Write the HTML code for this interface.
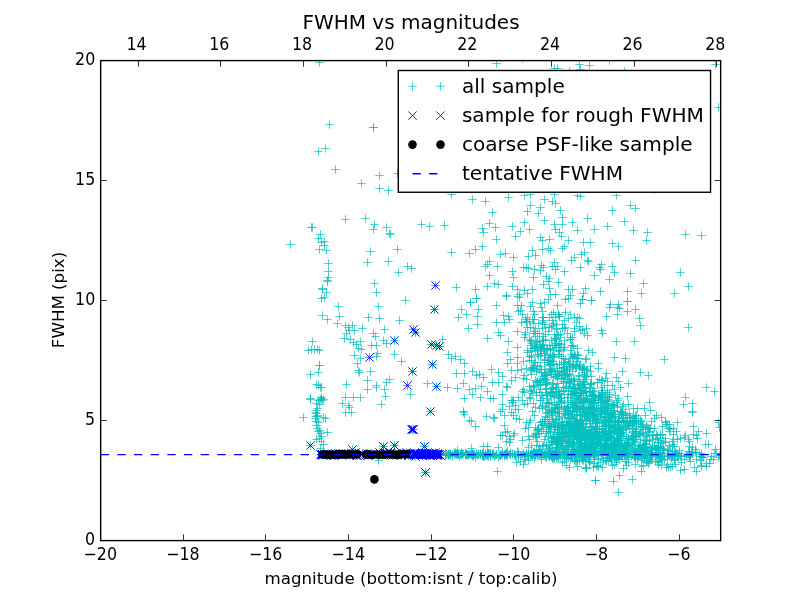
<!DOCTYPE html>
<html lang="en"><head><meta charset="utf-8"><title>FWHM vs magnitudes</title>
<style>html,body{margin:0;padding:0;background:#fff;overflow:hidden}svg{display:block}text{font-family:"DejaVu Sans", "Liberation Sans", sans-serif;fill:#000}</style></head><body>
<svg width="800" height="600" viewBox="0 0 800 600">
<rect width="800" height="600" fill="#fff"/>
<defs><clipPath id="ax"><rect x="100" y="60" width="620" height="480"/></clipPath></defs>
<g clip-path="url(#ax)">
<path d="M315.33 62.5h8.34M319.5 58.33v8.34M325.33 124.5h8.34M329.5 120.33v8.34M369.33 127.5h8.34M373.5 123.33v8.34M369.33 127.5h8.34M373.5 123.33v8.34M321.33 148.5h8.34M325.5 144.33v8.34M314.33 151.5h8.34M318.5 147.33v8.34M331.33 169.5h8.34M335.5 165.33v8.34M375.33 175.5h8.34M379.5 171.33v8.34M393.33 173.5h8.34M397.5 169.33v8.34M357.33 183.5h8.34M361.5 179.33v8.34M375.33 188.5h8.34M379.5 184.33v8.34M384.33 190.5h8.34M388.5 186.33v8.34M341.33 219.5h8.34M345.5 215.33v8.34M361.33 218.5h8.34M365.5 214.33v8.34M370.33 224.5h8.34M374.5 220.33v8.34M369.33 229.5h8.34M373.5 225.33v8.34M382.33 227.5h8.34M386.5 223.33v8.34M385.33 233.5h8.34M389.5 229.33v8.34M386.33 234.5h8.34M390.5 230.33v8.34M417.33 224.5h8.34M421.5 220.33v8.34M425.33 226.5h8.34M429.5 222.33v8.34M307.33 227.5h8.34M311.5 223.33v8.34M308.33 227.5h8.34M312.5 223.33v8.34M316.33 234.5h8.34M320.5 230.33v8.34M314.33 238.5h8.34M318.5 234.33v8.34M320.33 241.5h8.34M324.5 237.33v8.34M317.33 242.5h8.34M321.5 238.33v8.34M320.33 245.5h8.34M324.5 241.33v8.34M286.33 244.5h8.34M290.5 240.33v8.34M315.33 249.5h8.34M319.5 245.33v8.34M322.33 250.5h8.34M326.5 246.33v8.34M366.33 251.5h8.34M370.5 247.33v8.34M393.33 249.5h8.34M397.5 245.33v8.34M363.33 262.5h8.34M367.5 258.33v8.34M384.33 261.5h8.34M388.5 257.33v8.34M324.33 263.5h8.34M328.5 259.33v8.34M324.33 271.5h8.34M328.5 267.33v8.34M324.33 277.5h8.34M328.5 273.33v8.34M323.33 280.5h8.34M327.5 276.33v8.34M394.33 272.5h8.34M398.5 268.33v8.34M403.33 266.5h8.34M407.5 262.33v8.34M407.33 268.5h8.34M411.5 264.33v8.34M370.33 283.5h8.34M374.5 279.33v8.34M318.33 288.5h8.34M322.5 284.33v8.34M431.33 285.5h8.34M435.5 281.33v8.34M323.33 281.5h8.34M327.5 277.33v8.34M318.33 289.5h8.34M322.5 285.33v8.34M322.33 292.5h8.34M326.5 288.33v8.34M320.33 297.5h8.34M324.5 293.33v8.34M317.33 298.5h8.34M321.5 294.33v8.34M372.33 292.5h8.34M376.5 288.33v8.34M401.33 300.5h8.34M405.5 296.33v8.34M334.33 306.5h8.34M338.5 302.33v8.34M374.33 306.5h8.34M378.5 302.33v8.34M318.33 315.5h8.34M322.5 311.33v8.34M323.33 319.5h8.34M327.5 315.33v8.34M335.33 316.5h8.34M339.5 312.33v8.34M333.33 323.5h8.34M337.5 319.33v8.34M364.33 317.5h8.34M368.5 313.33v8.34M375.33 318.5h8.34M379.5 314.33v8.34M395.33 320.5h8.34M399.5 316.33v8.34M380.33 329.5h8.34M384.5 325.33v8.34M358.33 328.5h8.34M362.5 324.33v8.34M341.33 325.5h8.34M345.5 321.33v8.34M344.33 327.5h8.34M348.5 323.33v8.34M348.33 325.5h8.34M352.5 321.33v8.34M345.33 330.5h8.34M349.5 326.33v8.34M350.33 330.5h8.34M354.5 326.33v8.34M342.33 333.5h8.34M346.5 329.33v8.34M340.33 338.5h8.34M344.5 334.33v8.34M346.33 339.5h8.34M350.5 335.33v8.34M349.33 342.5h8.34M353.5 338.33v8.34M352.33 344.5h8.34M356.5 340.33v8.34M356.33 341.5h8.34M360.5 337.33v8.34M354.33 348.5h8.34M358.5 344.33v8.34M357.33 349.5h8.34M361.5 345.33v8.34M350.33 355.5h8.34M354.5 351.33v8.34M356.33 358.5h8.34M360.5 354.33v8.34M353.33 363.5h8.34M357.5 359.33v8.34M354.33 370.5h8.34M358.5 366.33v8.34M355.33 372.5h8.34M359.5 368.33v8.34M369.33 333.5h8.34M373.5 329.33v8.34M371.33 336.5h8.34M375.5 332.33v8.34M379.33 340.5h8.34M383.5 336.33v8.34M382.33 343.5h8.34M386.5 339.33v8.34M367.33 345.5h8.34M371.5 341.33v8.34M372.33 345.5h8.34M376.5 341.33v8.34M373.33 353.5h8.34M377.5 349.33v8.34M372.33 356.5h8.34M376.5 352.33v8.34M390.33 354.5h8.34M394.5 350.33v8.34M397.33 361.5h8.34M401.5 357.33v8.34M366.33 371.5h8.34M370.5 367.33v8.34M363.33 380.5h8.34M367.5 376.33v8.34M342.33 384.5h8.34M346.5 380.33v8.34M363.33 389.5h8.34M367.5 385.33v8.34M372.33 385.5h8.34M376.5 381.33v8.34M372.33 387.5h8.34M376.5 383.33v8.34M380.33 389.5h8.34M384.5 385.33v8.34M382.33 382.5h8.34M386.5 378.33v8.34M385.33 379.5h8.34M389.5 375.33v8.34M423.33 383.5h8.34M427.5 379.33v8.34M406.33 394.5h8.34M410.5 390.33v8.34M381.33 396.5h8.34M385.5 392.33v8.34M341.33 397.5h8.34M345.5 393.33v8.34M349.33 397.5h8.34M353.5 393.33v8.34M356.33 397.5h8.34M360.5 393.33v8.34M308.33 341.5h8.34M312.5 337.33v8.34M304.33 350.5h8.34M308.5 346.33v8.34M307.33 349.5h8.34M311.5 345.33v8.34M310.33 349.5h8.34M314.5 345.33v8.34M313.33 349.5h8.34M317.5 345.33v8.34M315.33 350.5h8.34M319.5 346.33v8.34M315.33 365.5h8.34M319.5 361.33v8.34M315.33 365.5h8.34M319.5 361.33v8.34M314.33 372.5h8.34M318.5 368.33v8.34M306.33 374.5h8.34M310.5 370.33v8.34M312.33 384.5h8.34M316.5 380.33v8.34M314.33 385.5h8.34M318.5 381.33v8.34M316.33 387.5h8.34M320.5 383.33v8.34M317.33 387.5h8.34M321.5 383.33v8.34M306.33 398.5h8.34M310.5 394.33v8.34M317.33 397.5h8.34M321.5 393.33v8.34M430.33 309.5h8.34M434.5 305.33v8.34M409.33 329.5h8.34M413.5 325.33v8.34M411.33 332.5h8.34M415.5 328.33v8.34M390.33 340.5h8.34M394.5 336.33v8.34M365.33 357.5h8.34M369.5 353.33v8.34M427.33 344.5h8.34M431.5 340.33v8.34M432.33 345.5h8.34M436.5 341.33v8.34M435.33 346.5h8.34M439.5 342.33v8.34M428.33 364.5h8.34M432.5 360.33v8.34M408.33 371.5h8.34M412.5 367.33v8.34M403.33 385.5h8.34M407.5 381.33v8.34M432.33 386.5h8.34M436.5 382.33v8.34M306.33 399.5h8.34M310.5 395.33v8.34M317.33 398.5h8.34M321.5 394.33v8.34M312.33 403.5h8.34M316.5 399.33v8.34M314.33 400.5h8.34M318.5 396.33v8.34M319.33 399.5h8.34M323.5 395.33v8.34M312.33 410.5h8.34M316.5 406.33v8.34M313.33 415.5h8.34M317.5 411.33v8.34M311.33 416.5h8.34M315.5 412.33v8.34M299.33 417.5h8.34M303.5 413.33v8.34M319.33 417.5h8.34M323.5 413.33v8.34M321.33 418.5h8.34M325.5 414.33v8.34M312.33 421.5h8.34M316.5 417.33v8.34M313.33 428.5h8.34M317.5 424.33v8.34M315.33 430.5h8.34M319.5 426.33v8.34M323.33 432.5h8.34M327.5 428.33v8.34M317.33 436.5h8.34M321.5 432.33v8.34M312.33 439.5h8.34M316.5 435.33v8.34M319.33 444.5h8.34M323.5 440.33v8.34M316.33 448.5h8.34M320.5 444.33v8.34M338.33 403.5h8.34M342.5 399.33v8.34M344.33 405.5h8.34M348.5 401.33v8.34M345.33 407.5h8.34M349.5 403.33v8.34M341.33 412.5h8.34M345.5 408.33v8.34M347.33 412.5h8.34M351.5 408.33v8.34M377.33 404.5h8.34M381.5 400.33v8.34M374.33 460.5h8.34M378.5 456.33v8.34M311.33 412.5h8.34M315.5 408.33v8.34M312.33 413.5h8.34M316.5 409.33v8.34M313.33 416.5h8.34M317.5 412.33v8.34M311.33 418.5h8.34M315.5 414.33v8.34M314.33 422.5h8.34M318.5 418.33v8.34M312.33 425.5h8.34M316.5 421.33v8.34M314.33 431.5h8.34M318.5 427.33v8.34M316.33 433.5h8.34M320.5 429.33v8.34M315.33 438.5h8.34M319.5 434.33v8.34M317.33 441.5h8.34M321.5 437.33v8.34M313.33 408.5h8.34M317.5 404.33v8.34M315.33 404.5h8.34M319.5 400.33v8.34M316.33 399.5h8.34M320.5 395.33v8.34M318.33 400.5h8.34M322.5 396.33v8.34M492.33 63.5h8.34M496.5 59.33v8.34M550.33 68.5h8.34M554.5 64.33v8.34M553.33 68.5h8.34M557.5 64.33v8.34M575.33 64.5h8.34M579.5 60.33v8.34M576.33 69.5h8.34M580.5 65.33v8.34M585.33 65.5h8.34M589.5 61.33v8.34M565.33 71.5h8.34M569.5 67.33v8.34M605.33 60.5h8.34M609.5 56.33v8.34M620.33 71.5h8.34M624.5 67.33v8.34M518.33 58.5h8.34M522.5 54.33v8.34M447.33 194.5h8.34M451.5 190.33v8.34M468.33 199.5h8.34M472.5 195.33v8.34M481.33 201.5h8.34M485.5 197.33v8.34M504.33 197.5h8.34M508.5 193.33v8.34M520.33 195.5h8.34M524.5 191.33v8.34M526.33 194.5h8.34M530.5 190.33v8.34M550.33 194.5h8.34M554.5 190.33v8.34M573.33 195.5h8.34M577.5 191.33v8.34M576.33 196.5h8.34M580.5 192.33v8.34M540.33 199.5h8.34M544.5 195.33v8.34M548.33 201.5h8.34M552.5 197.33v8.34M551.33 203.5h8.34M555.5 199.33v8.34M526.33 205.5h8.34M530.5 201.33v8.34M536.33 207.5h8.34M540.5 203.33v8.34M523.33 211.5h8.34M527.5 207.33v8.34M534.33 213.5h8.34M538.5 209.33v8.34M556.33 210.5h8.34M560.5 206.33v8.34M558.33 217.5h8.34M562.5 213.33v8.34M488.33 212.5h8.34M492.5 208.33v8.34M485.33 223.5h8.34M489.5 219.33v8.34M491.33 227.5h8.34M495.5 223.33v8.34M478.33 228.5h8.34M482.5 224.33v8.34M479.33 232.5h8.34M483.5 228.33v8.34M440.33 225.5h8.34M444.5 221.33v8.34M508.33 226.5h8.34M512.5 222.33v8.34M520.33 222.5h8.34M524.5 218.33v8.34M525.33 229.5h8.34M529.5 225.33v8.34M516.33 231.5h8.34M520.5 227.33v8.34M511.33 236.5h8.34M515.5 232.33v8.34M540.33 220.5h8.34M544.5 216.33v8.34M550.33 224.5h8.34M554.5 220.33v8.34M551.33 229.5h8.34M555.5 225.33v8.34M555.33 232.5h8.34M559.5 228.33v8.34M557.33 236.5h8.34M561.5 232.33v8.34M558.33 224.5h8.34M562.5 220.33v8.34M568.33 222.5h8.34M572.5 218.33v8.34M583.33 218.5h8.34M587.5 214.33v8.34M573.33 230.5h8.34M577.5 226.33v8.34M590.33 229.5h8.34M594.5 225.33v8.34M492.33 239.5h8.34M496.5 235.33v8.34M536.33 237.5h8.34M540.5 233.33v8.34M538.33 240.5h8.34M542.5 236.33v8.34M545.33 239.5h8.34M549.5 235.33v8.34M564.33 240.5h8.34M568.5 236.33v8.34M579.33 242.5h8.34M583.5 238.33v8.34M586.33 242.5h8.34M590.5 238.33v8.34M478.33 246.5h8.34M482.5 242.33v8.34M471.33 249.5h8.34M475.5 245.33v8.34M465.33 253.5h8.34M469.5 249.33v8.34M447.33 252.5h8.34M451.5 248.33v8.34M496.33 254.5h8.34M500.5 250.33v8.34M501.33 253.5h8.34M505.5 249.33v8.34M509.33 257.5h8.34M513.5 253.33v8.34M528.33 250.5h8.34M532.5 246.33v8.34M524.33 256.5h8.34M528.5 252.33v8.34M531.33 255.5h8.34M535.5 251.33v8.34M538.33 249.5h8.34M542.5 245.33v8.34M544.33 248.5h8.34M548.5 244.33v8.34M546.33 250.5h8.34M550.5 246.33v8.34M558.33 248.5h8.34M562.5 244.33v8.34M560.33 246.5h8.34M564.5 242.33v8.34M567.33 260.5h8.34M571.5 256.33v8.34M570.33 257.5h8.34M574.5 253.33v8.34M577.33 254.5h8.34M581.5 250.33v8.34M580.33 252.5h8.34M584.5 248.33v8.34M583.33 260.5h8.34M587.5 256.33v8.34M584.33 261.5h8.34M588.5 257.33v8.34M485.33 261.5h8.34M489.5 257.33v8.34M483.33 264.5h8.34M487.5 260.33v8.34M481.33 266.5h8.34M485.5 262.33v8.34M493.33 266.5h8.34M497.5 262.33v8.34M519.33 267.5h8.34M523.5 263.33v8.34M522.33 267.5h8.34M526.5 263.33v8.34M524.33 268.5h8.34M528.5 264.33v8.34M530.33 269.5h8.34M534.5 265.33v8.34M537.33 265.5h8.34M541.5 261.33v8.34M539.33 267.5h8.34M543.5 263.33v8.34M536.33 270.5h8.34M540.5 266.33v8.34M550.33 262.5h8.34M554.5 258.33v8.34M548.33 266.5h8.34M552.5 262.33v8.34M553.33 266.5h8.34M557.5 262.33v8.34M551.33 269.5h8.34M555.5 265.33v8.34M560.33 271.5h8.34M564.5 267.33v8.34M576.33 267.5h8.34M580.5 263.33v8.34M595.33 267.5h8.34M599.5 263.33v8.34M485.33 275.5h8.34M489.5 271.33v8.34M508.33 271.5h8.34M512.5 267.33v8.34M509.33 277.5h8.34M513.5 273.33v8.34M529.33 277.5h8.34M533.5 273.33v8.34M542.33 276.5h8.34M546.5 272.33v8.34M545.33 278.5h8.34M549.5 274.33v8.34M544.33 281.5h8.34M548.5 277.33v8.34M554.33 282.5h8.34M558.5 278.33v8.34M539.33 284.5h8.34M543.5 280.33v8.34M590.33 275.5h8.34M594.5 271.33v8.34M452.33 287.5h8.34M456.5 283.33v8.34M471.33 289.5h8.34M475.5 285.33v8.34M483.33 286.5h8.34M487.5 282.33v8.34M490.33 283.5h8.34M494.5 279.33v8.34M494.33 284.5h8.34M498.5 280.33v8.34M508.33 286.5h8.34M512.5 282.33v8.34M513.33 289.5h8.34M517.5 285.33v8.34M520.33 290.5h8.34M524.5 286.33v8.34M523.33 293.5h8.34M527.5 289.33v8.34M528.33 289.5h8.34M532.5 285.33v8.34M515.33 294.5h8.34M519.5 290.33v8.34M513.33 296.5h8.34M517.5 292.33v8.34M502.33 295.5h8.34M506.5 291.33v8.34M545.33 288.5h8.34M549.5 284.33v8.34M546.33 294.5h8.34M550.5 290.33v8.34M551.33 294.5h8.34M555.5 290.33v8.34M544.33 299.5h8.34M548.5 295.33v8.34M564.33 289.5h8.34M568.5 285.33v8.34M568.33 289.5h8.34M572.5 285.33v8.34M566.33 295.5h8.34M570.5 291.33v8.34M561.33 299.5h8.34M565.5 295.33v8.34M581.33 288.5h8.34M585.5 284.33v8.34M579.33 293.5h8.34M583.5 289.33v8.34M578.33 299.5h8.34M582.5 295.33v8.34M587.33 300.5h8.34M591.5 296.33v8.34M472.33 298.5h8.34M476.5 294.33v8.34M466.33 302.5h8.34M470.5 298.33v8.34M528.33 302.5h8.34M532.5 298.33v8.34M536.33 303.5h8.34M540.5 299.33v8.34M540.33 302.5h8.34M544.5 298.33v8.34M612.33 195.5h8.34M616.5 191.33v8.34M626.33 205.5h8.34M630.5 201.33v8.34M631.33 208.5h8.34M635.5 204.33v8.34M608.33 210.5h8.34M612.5 206.33v8.34M620.33 221.5h8.34M624.5 217.33v8.34M603.33 226.5h8.34M607.5 222.33v8.34M629.33 230.5h8.34M633.5 226.33v8.34M643.33 232.5h8.34M647.5 228.33v8.34M642.33 240.5h8.34M646.5 236.33v8.34M681.33 234.5h8.34M685.5 230.33v8.34M697.33 235.5h8.34M701.5 231.33v8.34M608.33 243.5h8.34M612.5 239.33v8.34M614.33 246.5h8.34M618.5 242.33v8.34M631.33 260.5h8.34M635.5 256.33v8.34M597.33 264.5h8.34M601.5 260.33v8.34M608.33 266.5h8.34M612.5 262.33v8.34M596.33 269.5h8.34M600.5 265.33v8.34M610.33 272.5h8.34M614.5 268.33v8.34M626.33 273.5h8.34M630.5 269.33v8.34M605.33 279.5h8.34M609.5 275.33v8.34M676.33 272.5h8.34M680.5 268.33v8.34M684.33 286.5h8.34M688.5 282.33v8.34M639.33 283.5h8.34M643.5 279.33v8.34M623.33 291.5h8.34M627.5 287.33v8.34M637.33 293.5h8.34M641.5 289.33v8.34M670.33 293.5h8.34M674.5 289.33v8.34M596.33 291.5h8.34M600.5 287.33v8.34M623.33 301.5h8.34M627.5 297.33v8.34M606.33 304.5h8.34M610.5 300.33v8.34M614.33 304.5h8.34M618.5 300.33v8.34M650.33 189.5h8.34M654.5 185.33v8.34M472.33 298.5h8.34M476.5 294.33v8.34M466.33 302.5h8.34M470.5 298.33v8.34M502.33 296.5h8.34M506.5 292.33v8.34M515.33 297.5h8.34M519.5 293.33v8.34M492.33 305.5h8.34M496.5 301.33v8.34M457.33 309.5h8.34M461.5 305.33v8.34M474.33 309.5h8.34M478.5 305.33v8.34M462.33 314.5h8.34M466.5 310.33v8.34M454.33 317.5h8.34M458.5 313.33v8.34M473.33 316.5h8.34M477.5 312.33v8.34M473.33 324.5h8.34M477.5 320.33v8.34M464.33 328.5h8.34M468.5 324.33v8.34M499.33 315.5h8.34M503.5 311.33v8.34M504.33 316.5h8.34M508.5 312.33v8.34M505.33 319.5h8.34M509.5 315.33v8.34M492.33 322.5h8.34M496.5 318.33v8.34M500.33 322.5h8.34M504.5 318.33v8.34M494.33 332.5h8.34M498.5 328.33v8.34M496.33 335.5h8.34M500.5 331.33v8.34M483.33 338.5h8.34M487.5 334.33v8.34M504.33 341.5h8.34M508.5 337.33v8.34M438.33 339.5h8.34M442.5 335.33v8.34M444.33 354.5h8.34M448.5 350.33v8.34M447.33 358.5h8.34M451.5 354.33v8.34M451.33 356.5h8.34M455.5 352.33v8.34M456.33 359.5h8.34M460.5 355.33v8.34M460.33 363.5h8.34M464.5 359.33v8.34M503.33 352.5h8.34M507.5 348.33v8.34M506.33 359.5h8.34M510.5 355.33v8.34M503.33 363.5h8.34M507.5 359.33v8.34M452.33 373.5h8.34M456.5 369.33v8.34M460.33 373.5h8.34M464.5 369.33v8.34M468.33 371.5h8.34M472.5 367.33v8.34M472.33 375.5h8.34M476.5 371.33v8.34M475.33 374.5h8.34M479.5 370.33v8.34M479.33 377.5h8.34M483.5 373.33v8.34M487.33 369.5h8.34M491.5 365.33v8.34M494.33 372.5h8.34M498.5 368.33v8.34M498.33 376.5h8.34M502.5 372.33v8.34M507.33 370.5h8.34M511.5 366.33v8.34M511.33 377.5h8.34M515.5 373.33v8.34M459.33 383.5h8.34M463.5 379.33v8.34M443.33 387.5h8.34M447.5 383.33v8.34M453.33 388.5h8.34M457.5 384.33v8.34M465.33 389.5h8.34M469.5 385.33v8.34M471.33 388.5h8.34M475.5 384.33v8.34M477.33 386.5h8.34M481.5 382.33v8.34M488.33 382.5h8.34M492.5 378.33v8.34M494.33 382.5h8.34M498.5 378.33v8.34M483.33 391.5h8.34M487.5 387.33v8.34M468.33 394.5h8.34M472.5 390.33v8.34M460.33 398.5h8.34M464.5 394.33v8.34M476.33 397.5h8.34M480.5 393.33v8.34M486.33 398.5h8.34M490.5 394.33v8.34M489.33 398.5h8.34M493.5 394.33v8.34M498.33 394.5h8.34M502.5 390.33v8.34M498.33 404.5h8.34M502.5 400.33v8.34M459.33 411.5h8.34M463.5 407.33v8.34M496.33 411.5h8.34M500.5 407.33v8.34M564.33 298.5h8.34M568.5 294.33v8.34M578.33 299.5h8.34M582.5 295.33v8.34M576.33 303.5h8.34M580.5 299.33v8.34M587.33 300.5h8.34M591.5 296.33v8.34M623.33 301.5h8.34M627.5 297.33v8.34M605.33 307.5h8.34M609.5 303.33v8.34M613.33 307.5h8.34M617.5 303.33v8.34M615.33 308.5h8.34M619.5 304.33v8.34M613.33 314.5h8.34M617.5 310.33v8.34M623.33 311.5h8.34M627.5 307.33v8.34M631.33 309.5h8.34M635.5 305.33v8.34M602.33 316.5h8.34M606.5 312.33v8.34M635.33 318.5h8.34M639.5 314.33v8.34M636.33 325.5h8.34M640.5 321.33v8.34M597.33 330.5h8.34M601.5 326.33v8.34M598.33 333.5h8.34M602.5 329.33v8.34M684.33 327.5h8.34M688.5 323.33v8.34M612.33 341.5h8.34M616.5 337.33v8.34M630.33 341.5h8.34M634.5 337.33v8.34M610.33 357.5h8.34M614.5 353.33v8.34M621.33 358.5h8.34M625.5 354.33v8.34M660.33 359.5h8.34M664.5 355.33v8.34M636.33 372.5h8.34M640.5 368.33v8.34M644.33 375.5h8.34M648.5 371.33v8.34M618.33 371.5h8.34M622.5 367.33v8.34M702.33 387.5h8.34M706.5 383.33v8.34M710.33 391.5h8.34M714.5 387.33v8.34M681.33 397.5h8.34M685.5 393.33v8.34M679.33 404.5h8.34M683.5 400.33v8.34M688.33 403.5h8.34M692.5 399.33v8.34M688.33 411.5h8.34M692.5 407.33v8.34M582.33 468.5h8.34M586.5 464.33v8.34M591.33 480.5h8.34M595.5 476.33v8.34M609.33 481.5h8.34M613.5 477.33v8.34M614.33 492.5h8.34M618.5 488.33v8.34M615.33 475.5h8.34M619.5 471.33v8.34M628.33 479.5h8.34M632.5 475.33v8.34M637.33 471.5h8.34M641.5 467.33v8.34M619.33 468.5h8.34M623.5 464.33v8.34M598.33 467.5h8.34M602.5 463.33v8.34M608.33 465.5h8.34M612.5 461.33v8.34M664.33 467.5h8.34M668.5 463.33v8.34M676.33 470.5h8.34M680.5 466.33v8.34M680.33 469.5h8.34M684.5 465.33v8.34M692.33 471.5h8.34M696.5 467.33v8.34M705.33 463.5h8.34M709.5 459.33v8.34M654.33 464.5h8.34M658.5 460.33v8.34M644.33 463.5h8.34M648.5 459.33v8.34M688.33 412.5h8.34M692.5 408.33v8.34M715.33 427.5h8.34M719.5 423.33v8.34M714.33 422.5h8.34M718.5 418.33v8.34M459.33 412.5h8.34M463.5 408.33v8.34M460.33 414.5h8.34M464.5 410.33v8.34M465.33 420.5h8.34M469.5 416.33v8.34M467.33 421.5h8.34M471.5 417.33v8.34M471.33 426.5h8.34M475.5 422.33v8.34M482.33 416.5h8.34M486.5 412.33v8.34M489.33 417.5h8.34M493.5 413.33v8.34M490.33 418.5h8.34M494.5 414.33v8.34M498.33 409.5h8.34M502.5 405.33v8.34M500.33 415.5h8.34M504.5 411.33v8.34M500.33 425.5h8.34M504.5 421.33v8.34M496.33 435.5h8.34M500.5 431.33v8.34M498.33 435.5h8.34M502.5 431.33v8.34M479.33 446.5h8.34M483.5 442.33v8.34M483.33 446.5h8.34M487.5 442.33v8.34M467.33 448.5h8.34M471.5 444.33v8.34M494.33 447.5h8.34M498.5 443.33v8.34M453.33 450.5h8.34M457.5 446.33v8.34M493.33 471.5h8.34M497.5 467.33v8.34M519.33 464.5h8.34M523.5 460.33v8.34M582.33 468.5h8.34M586.5 464.33v8.34M591.33 480.5h8.34M595.5 476.33v8.34M593.33 465.5h8.34M597.5 461.33v8.34M711.33 64.5h8.34M715.5 60.33v8.34M714.33 107.5h8.34M718.5 103.33v8.34M431.33 285.5h8.34M435.5 281.33v8.34M430.33 309.5h8.34M434.5 305.33v8.34M409.33 329.5h8.34M413.5 325.33v8.34M411.33 332.5h8.34M415.5 328.33v8.34M390.33 340.5h8.34M394.5 336.33v8.34M365.33 357.5h8.34M369.5 353.33v8.34M427.33 344.5h8.34M431.5 340.33v8.34M432.33 345.5h8.34M436.5 341.33v8.34M435.33 346.5h8.34M439.5 342.33v8.34M428.33 364.5h8.34M432.5 360.33v8.34M408.33 371.5h8.34M412.5 367.33v8.34M403.33 385.5h8.34M407.5 381.33v8.34M432.33 386.5h8.34M436.5 382.33v8.34M306.33 445.5h8.34M310.5 441.33v8.34M348.33 449.5h8.34M352.5 445.33v8.34M379.33 446.5h8.34M383.5 442.33v8.34M390.33 445.5h8.34M394.5 441.33v8.34M420.33 446.5h8.34M424.5 442.33v8.34M426.33 411.5h8.34M430.5 407.33v8.34M408.33 429.5h8.34M412.5 425.33v8.34M409.33 429.5h8.34M413.5 425.33v8.34M421.33 472.5h8.34M425.5 468.33v8.34M407.33 429.5h8.34M411.5 425.33v8.34M409.33 429.5h8.34M413.5 425.33v8.34M420.33 446.5h8.34M424.5 442.33v8.34M421.33 472.5h8.34M425.5 468.33v8.34M390.33 445.5h8.34M394.5 441.33v8.34M379.33 446.5h8.34M383.5 442.33v8.34M417.33 454.5h8.34M421.5 450.33v8.34M410.33 455.5h8.34M414.5 451.33v8.34M423.33 454.5h8.34M427.5 450.33v8.34M422.33 454.5h8.34M426.5 450.33v8.34M409.33 454.5h8.34M413.5 450.33v8.34M410.33 454.5h8.34M414.5 450.33v8.34M420.33 454.5h8.34M424.5 450.33v8.34M414.33 454.5h8.34M418.5 450.33v8.34M426.33 455.5h8.34M430.5 451.33v8.34M419.33 454.5h8.34M423.5 450.33v8.34M436.33 455.5h8.34M440.5 451.33v8.34M416.33 454.5h8.34M420.5 450.33v8.34M412.33 454.5h8.34M416.5 450.33v8.34M431.33 454.5h8.34M435.5 450.33v8.34M413.33 453.5h8.34M417.5 449.33v8.34M418.33 453.5h8.34M422.5 449.33v8.34M423.33 454.5h8.34M427.5 450.33v8.34M413.33 454.5h8.34M417.5 450.33v8.34M427.33 453.5h8.34M431.5 449.33v8.34M424.33 454.5h8.34M428.5 450.33v8.34M421.33 454.5h8.34M425.5 450.33v8.34M428.33 455.5h8.34M432.5 451.33v8.34M415.33 453.5h8.34M419.5 449.33v8.34M433.33 454.5h8.34M437.5 450.33v8.34M429.33 453.5h8.34M433.5 449.33v8.34M411.33 456.5h8.34M415.5 452.33v8.34M420.33 454.5h8.34M424.5 450.33v8.34M422.33 453.5h8.34M426.5 449.33v8.34M409.33 453.5h8.34M413.5 449.33v8.34M424.33 453.5h8.34M428.5 449.33v8.34M433.33 453.5h8.34M437.5 449.33v8.34M425.33 455.5h8.34M429.5 451.33v8.34M424.33 453.5h8.34M428.5 449.33v8.34M435.33 454.5h8.34M439.5 450.33v8.34M421.33 454.5h8.34M425.5 450.33v8.34M428.33 454.5h8.34M432.5 450.33v8.34M426.33 455.5h8.34M430.5 451.33v8.34M416.33 454.5h8.34M420.5 450.33v8.34M419.33 454.5h8.34M423.5 450.33v8.34M421.33 454.5h8.34M425.5 450.33v8.34M412.33 454.5h8.34M416.5 450.33v8.34M430.33 454.5h8.34M434.5 450.33v8.34M411.33 454.5h8.34M415.5 450.33v8.34M433.33 455.5h8.34M437.5 451.33v8.34M410.33 453.5h8.34M414.5 449.33v8.34M433.33 454.5h8.34M437.5 450.33v8.34M431.33 454.5h8.34M435.5 450.33v8.34M420.33 453.5h8.34M424.5 449.33v8.34M418.33 455.5h8.34M422.5 451.33v8.34M412.33 453.5h8.34M416.5 449.33v8.34M413.33 454.5h8.34M417.5 450.33v8.34M422.33 454.5h8.34M426.5 450.33v8.34M425.33 454.5h8.34M429.5 450.33v8.34M420.33 454.5h8.34M424.5 450.33v8.34M418.33 452.5h8.34M422.5 448.33v8.34M428.33 453.5h8.34M432.5 449.33v8.34M422.33 453.5h8.34M426.5 449.33v8.34M409.33 453.5h8.34M413.5 449.33v8.34M434.33 454.5h8.34M438.5 450.33v8.34M431.33 452.5h8.34M435.5 448.33v8.34M419.33 454.5h8.34M423.5 450.33v8.34M426.33 454.5h8.34M430.5 450.33v8.34M409.33 454.5h8.34M413.5 450.33v8.34M412.33 454.5h8.34M416.5 450.33v8.34M417.33 454.5h8.34M421.5 450.33v8.34M412.33 454.5h8.34M416.5 450.33v8.34M410.33 454.5h8.34M414.5 450.33v8.34M433.33 454.5h8.34M437.5 450.33v8.34M425.33 454.5h8.34M429.5 450.33v8.34M418.33 454.5h8.34M422.5 450.33v8.34M418.33 455.5h8.34M422.5 451.33v8.34M436.33 455.5h8.34M440.5 451.33v8.34M421.33 454.5h8.34M425.5 450.33v8.34M410.33 454.5h8.34M414.5 450.33v8.34M417.33 454.5h8.34M421.5 450.33v8.34M330.33 455.5h8.34M334.5 451.33v8.34M318.33 455.5h8.34M322.5 451.33v8.34M329.33 454.5h8.34M333.5 450.33v8.34M364.33 455.5h8.34M368.5 451.33v8.34M404.33 454.5h8.34M408.5 450.33v8.34M393.33 454.5h8.34M397.5 450.33v8.34M349.33 453.5h8.34M353.5 449.33v8.34M331.33 454.5h8.34M335.5 450.33v8.34M386.33 453.5h8.34M390.5 449.33v8.34M345.33 454.5h8.34M349.5 450.33v8.34M404.33 455.5h8.34M408.5 451.33v8.34M392.33 454.5h8.34M396.5 450.33v8.34M382.33 453.5h8.34M386.5 449.33v8.34M336.33 453.5h8.34M340.5 449.33v8.34M318.33 454.5h8.34M322.5 450.33v8.34M318.33 454.5h8.34M322.5 450.33v8.34M378.33 455.5h8.34M382.5 451.33v8.34M402.33 452.5h8.34M406.5 448.33v8.34M404.33 455.5h8.34M408.5 451.33v8.34M401.33 454.5h8.34M405.5 450.33v8.34M336.33 454.5h8.34M340.5 450.33v8.34M333.33 454.5h8.34M337.5 450.33v8.34M397.33 455.5h8.34M401.5 451.33v8.34M391.33 453.5h8.34M395.5 449.33v8.34M387.33 454.5h8.34M391.5 450.33v8.34M323.33 453.5h8.34M327.5 449.33v8.34M386.33 452.5h8.34M390.5 448.33v8.34M383.33 453.5h8.34M387.5 449.33v8.34M387.33 454.5h8.34M391.5 450.33v8.34M345.33 455.5h8.34M349.5 451.33v8.34M351.33 452.5h8.34M355.5 448.33v8.34M352.33 455.5h8.34M356.5 451.33v8.34M331.33 453.5h8.34M335.5 449.33v8.34M327.33 455.5h8.34M331.5 451.33v8.34M388.33 455.5h8.34M392.5 451.33v8.34M329.33 455.5h8.34M333.5 451.33v8.34M375.33 452.5h8.34M379.5 448.33v8.34M347.33 453.5h8.34M351.5 449.33v8.34M317.33 454.5h8.34M321.5 450.33v8.34M403.33 453.5h8.34M407.5 449.33v8.34M400.33 453.5h8.34M404.5 449.33v8.34M355.33 455.5h8.34M359.5 451.33v8.34M334.33 453.5h8.34M338.5 449.33v8.34M338.33 454.5h8.34M342.5 450.33v8.34M368.33 454.5h8.34M372.5 450.33v8.34M339.33 454.5h8.34M343.5 450.33v8.34M397.33 454.5h8.34M401.5 450.33v8.34M347.33 453.5h8.34M351.5 449.33v8.34M397.33 454.5h8.34M401.5 450.33v8.34M353.33 455.5h8.34M357.5 451.33v8.34M363.33 453.5h8.34M367.5 449.33v8.34M363.33 455.5h8.34M367.5 451.33v8.34M332.33 454.5h8.34M336.5 450.33v8.34M316.33 454.5h8.34M320.5 450.33v8.34M358.33 453.5h8.34M362.5 449.33v8.34M381.33 453.5h8.34M385.5 449.33v8.34M362.33 454.5h8.34M366.5 450.33v8.34M365.33 454.5h8.34M369.5 450.33v8.34M366.33 454.5h8.34M370.5 450.33v8.34M338.33 454.5h8.34M342.5 450.33v8.34M565.33 363.5h8.34M569.5 359.33v8.34M625.33 421.5h8.34M629.5 417.33v8.34M534.33 356.5h8.34M538.5 352.33v8.34M616.33 387.5h8.34M620.5 383.33v8.34M631.33 431.5h8.34M635.5 427.33v8.34M553.33 443.5h8.34M557.5 439.33v8.34M572.33 367.5h8.34M576.5 363.33v8.34M542.33 403.5h8.34M546.5 399.33v8.34M645.33 431.5h8.34M649.5 427.33v8.34M624.33 404.5h8.34M628.5 400.33v8.34M580.33 416.5h8.34M584.5 412.33v8.34M635.33 452.5h8.34M639.5 448.33v8.34M611.33 430.5h8.34M615.5 426.33v8.34M578.33 459.5h8.34M582.5 455.33v8.34M568.33 431.5h8.34M572.5 427.33v8.34M524.33 455.5h8.34M528.5 451.33v8.34M538.33 453.5h8.34M542.5 449.33v8.34M580.33 413.5h8.34M584.5 409.33v8.34M566.33 394.5h8.34M570.5 390.33v8.34M555.33 393.5h8.34M559.5 389.33v8.34M566.33 350.5h8.34M570.5 346.33v8.34M585.33 412.5h8.34M589.5 408.33v8.34M651.33 449.5h8.34M655.5 445.33v8.34M591.33 416.5h8.34M595.5 412.33v8.34M634.33 423.5h8.34M638.5 419.33v8.34M646.33 449.5h8.34M650.5 445.33v8.34M568.33 404.5h8.34M572.5 400.33v8.34M575.33 366.5h8.34M579.5 362.33v8.34M628.33 444.5h8.34M632.5 440.33v8.34M521.33 334.5h8.34M525.5 330.33v8.34M514.33 409.5h8.34M518.5 405.33v8.34M567.33 354.5h8.34M571.5 350.33v8.34M684.33 451.5h8.34M688.5 447.33v8.34M661.33 422.5h8.34M665.5 418.33v8.34M580.33 368.5h8.34M584.5 364.33v8.34M537.33 431.5h8.34M541.5 427.33v8.34M589.33 455.5h8.34M593.5 451.33v8.34M557.33 364.5h8.34M561.5 360.33v8.34M563.33 446.5h8.34M567.5 442.33v8.34M603.33 397.5h8.34M607.5 393.33v8.34M601.33 409.5h8.34M605.5 405.33v8.34M613.33 439.5h8.34M617.5 435.33v8.34M552.33 347.5h8.34M556.5 343.33v8.34M541.33 369.5h8.34M545.5 365.33v8.34M572.33 366.5h8.34M576.5 362.33v8.34M589.33 436.5h8.34M593.5 432.33v8.34M606.33 420.5h8.34M610.5 416.33v8.34M615.33 414.5h8.34M619.5 410.33v8.34M574.33 433.5h8.34M578.5 429.33v8.34M701.33 444.5h8.34M705.5 440.33v8.34M550.33 397.5h8.34M554.5 393.33v8.34M594.33 459.5h8.34M598.5 455.33v8.34M570.33 436.5h8.34M574.5 432.33v8.34M591.33 445.5h8.34M595.5 441.33v8.34M573.33 348.5h8.34M577.5 344.33v8.34M568.33 345.5h8.34M572.5 341.33v8.34M555.33 440.5h8.34M559.5 436.33v8.34M651.33 461.5h8.34M655.5 457.33v8.34M591.33 418.5h8.34M595.5 414.33v8.34M670.33 446.5h8.34M674.5 442.33v8.34M631.33 420.5h8.34M635.5 416.33v8.34M525.33 422.5h8.34M529.5 418.33v8.34M590.33 459.5h8.34M594.5 455.33v8.34M560.33 347.5h8.34M564.5 343.33v8.34M574.33 443.5h8.34M578.5 439.33v8.34M570.33 317.5h8.34M574.5 313.33v8.34M618.33 446.5h8.34M622.5 442.33v8.34M634.33 454.5h8.34M638.5 450.33v8.34M510.33 433.5h8.34M514.5 429.33v8.34M592.33 437.5h8.34M596.5 433.33v8.34M660.33 459.5h8.34M664.5 455.33v8.34M640.33 458.5h8.34M644.5 454.33v8.34M621.33 446.5h8.34M625.5 442.33v8.34M542.33 392.5h8.34M546.5 388.33v8.34M560.33 368.5h8.34M564.5 364.33v8.34M595.33 411.5h8.34M599.5 407.33v8.34M568.33 434.5h8.34M572.5 430.33v8.34M548.33 393.5h8.34M552.5 389.33v8.34M617.33 440.5h8.34M621.5 436.33v8.34M621.33 451.5h8.34M625.5 447.33v8.34M564.33 361.5h8.34M568.5 357.33v8.34M547.33 426.5h8.34M551.5 422.33v8.34M537.33 349.5h8.34M541.5 345.33v8.34M622.33 420.5h8.34M626.5 416.33v8.34M578.33 444.5h8.34M582.5 440.33v8.34M568.33 365.5h8.34M572.5 361.33v8.34M598.33 390.5h8.34M602.5 386.33v8.34M561.33 327.5h8.34M565.5 323.33v8.34M580.33 437.5h8.34M584.5 433.33v8.34M614.33 445.5h8.34M618.5 441.33v8.34M567.33 451.5h8.34M571.5 447.33v8.34M557.33 447.5h8.34M561.5 443.33v8.34M688.33 447.5h8.34M692.5 443.33v8.34M524.33 447.5h8.34M528.5 443.33v8.34M552.33 324.5h8.34M556.5 320.33v8.34M626.33 417.5h8.34M630.5 413.33v8.34M601.33 434.5h8.34M605.5 430.33v8.34M600.33 447.5h8.34M604.5 443.33v8.34M563.33 369.5h8.34M567.5 365.33v8.34M624.33 438.5h8.34M628.5 434.33v8.34M560.33 362.5h8.34M564.5 358.33v8.34M630.33 437.5h8.34M634.5 433.33v8.34M619.33 434.5h8.34M623.5 430.33v8.34M542.33 413.5h8.34M546.5 409.33v8.34M569.33 408.5h8.34M573.5 404.33v8.34M586.33 434.5h8.34M590.5 430.33v8.34M592.33 442.5h8.34M596.5 438.33v8.34M555.33 402.5h8.34M559.5 398.33v8.34M643.33 461.5h8.34M647.5 457.33v8.34M570.33 446.5h8.34M574.5 442.33v8.34M567.33 393.5h8.34M571.5 389.33v8.34M657.33 417.5h8.34M661.5 413.33v8.34M586.33 371.5h8.34M590.5 367.33v8.34M628.33 428.5h8.34M632.5 424.33v8.34M601.33 436.5h8.34M605.5 432.33v8.34M613.33 444.5h8.34M617.5 440.33v8.34M584.33 459.5h8.34M588.5 455.33v8.34M570.33 432.5h8.34M574.5 428.33v8.34M560.33 452.5h8.34M564.5 448.33v8.34M576.33 389.5h8.34M580.5 385.33v8.34M513.33 357.5h8.34M517.5 353.33v8.34M603.33 404.5h8.34M607.5 400.33v8.34M595.33 422.5h8.34M599.5 418.33v8.34M579.33 460.5h8.34M583.5 456.33v8.34M585.33 409.5h8.34M589.5 405.33v8.34M561.33 409.5h8.34M565.5 405.33v8.34M554.33 423.5h8.34M558.5 419.33v8.34M538.33 378.5h8.34M542.5 374.33v8.34M634.33 451.5h8.34M638.5 447.33v8.34M598.33 455.5h8.34M602.5 451.33v8.34M600.33 385.5h8.34M604.5 381.33v8.34M543.33 348.5h8.34M547.5 344.33v8.34M591.33 396.5h8.34M595.5 392.33v8.34M623.33 415.5h8.34M627.5 411.33v8.34M646.33 452.5h8.34M650.5 448.33v8.34M565.33 426.5h8.34M569.5 422.33v8.34M622.33 445.5h8.34M626.5 441.33v8.34M602.33 448.5h8.34M606.5 444.33v8.34M551.33 422.5h8.34M555.5 418.33v8.34M696.33 460.5h8.34M700.5 456.33v8.34M598.33 396.5h8.34M602.5 392.33v8.34M631.33 415.5h8.34M635.5 411.33v8.34M554.33 442.5h8.34M558.5 438.33v8.34M642.33 444.5h8.34M646.5 440.33v8.34M597.33 413.5h8.34M601.5 409.33v8.34M564.33 414.5h8.34M568.5 410.33v8.34M567.33 421.5h8.34M571.5 417.33v8.34M636.33 429.5h8.34M640.5 425.33v8.34M520.33 455.5h8.34M524.5 451.33v8.34M535.33 446.5h8.34M539.5 442.33v8.34M567.33 379.5h8.34M571.5 375.33v8.34M665.33 445.5h8.34M669.5 441.33v8.34M555.33 407.5h8.34M559.5 403.33v8.34M588.33 394.5h8.34M592.5 390.33v8.34M561.33 451.5h8.34M565.5 447.33v8.34M545.33 357.5h8.34M549.5 353.33v8.34M588.33 402.5h8.34M592.5 398.33v8.34M641.33 444.5h8.34M645.5 440.33v8.34M572.33 432.5h8.34M576.5 428.33v8.34M617.33 444.5h8.34M621.5 440.33v8.34M588.33 409.5h8.34M592.5 405.33v8.34M536.33 380.5h8.34M540.5 376.33v8.34M575.33 400.5h8.34M579.5 396.33v8.34M549.33 384.5h8.34M553.5 380.33v8.34M591.33 451.5h8.34M595.5 447.33v8.34M585.33 434.5h8.34M589.5 430.33v8.34M576.33 440.5h8.34M580.5 436.33v8.34M552.33 404.5h8.34M556.5 400.33v8.34M579.33 450.5h8.34M583.5 446.33v8.34M554.33 418.5h8.34M558.5 414.33v8.34M542.33 427.5h8.34M546.5 423.33v8.34M561.33 415.5h8.34M565.5 411.33v8.34M582.33 398.5h8.34M586.5 394.33v8.34M569.33 407.5h8.34M573.5 403.33v8.34M539.33 349.5h8.34M543.5 345.33v8.34M573.33 438.5h8.34M577.5 434.33v8.34M640.33 450.5h8.34M644.5 446.33v8.34M691.33 449.5h8.34M695.5 445.33v8.34M555.33 413.5h8.34M559.5 409.33v8.34M607.33 452.5h8.34M611.5 448.33v8.34M508.33 402.5h8.34M512.5 398.33v8.34M552.33 389.5h8.34M556.5 385.33v8.34M533.33 354.5h8.34M537.5 350.33v8.34M535.33 408.5h8.34M539.5 404.33v8.34M601.33 400.5h8.34M605.5 396.33v8.34M619.33 417.5h8.34M623.5 413.33v8.34M558.33 446.5h8.34M562.5 442.33v8.34M624.33 439.5h8.34M628.5 435.33v8.34M656.33 453.5h8.34M660.5 449.33v8.34M601.33 439.5h8.34M605.5 435.33v8.34M652.33 434.5h8.34M656.5 430.33v8.34M548.33 355.5h8.34M552.5 351.33v8.34M587.33 429.5h8.34M591.5 425.33v8.34M593.33 455.5h8.34M597.5 451.33v8.34M652.33 448.5h8.34M656.5 444.33v8.34M619.33 450.5h8.34M623.5 446.33v8.34M547.33 340.5h8.34M551.5 336.33v8.34M540.33 355.5h8.34M544.5 351.33v8.34M584.33 414.5h8.34M588.5 410.33v8.34M578.33 407.5h8.34M582.5 403.33v8.34M616.33 435.5h8.34M620.5 431.33v8.34M555.33 441.5h8.34M559.5 437.33v8.34M653.33 461.5h8.34M657.5 457.33v8.34M594.33 402.5h8.34M598.5 398.33v8.34M584.33 446.5h8.34M588.5 442.33v8.34M608.33 450.5h8.34M612.5 446.33v8.34M626.33 423.5h8.34M630.5 419.33v8.34M612.33 439.5h8.34M616.5 435.33v8.34M597.33 443.5h8.34M601.5 439.33v8.34M577.33 393.5h8.34M581.5 389.33v8.34M566.33 383.5h8.34M570.5 379.33v8.34M582.33 399.5h8.34M586.5 395.33v8.34M582.33 420.5h8.34M586.5 416.33v8.34M579.33 435.5h8.34M583.5 431.33v8.34M595.33 446.5h8.34M599.5 442.33v8.34M543.33 382.5h8.34M547.5 378.33v8.34M627.33 447.5h8.34M631.5 443.33v8.34M663.33 456.5h8.34M667.5 452.33v8.34M610.33 443.5h8.34M614.5 439.33v8.34M533.33 350.5h8.34M537.5 346.33v8.34M538.33 311.5h8.34M542.5 307.33v8.34M646.33 450.5h8.34M650.5 446.33v8.34M603.33 408.5h8.34M607.5 404.33v8.34M605.33 415.5h8.34M609.5 411.33v8.34M630.33 418.5h8.34M634.5 414.33v8.34M594.33 441.5h8.34M598.5 437.33v8.34M568.33 387.5h8.34M572.5 383.33v8.34M561.33 433.5h8.34M565.5 429.33v8.34M575.33 432.5h8.34M579.5 428.33v8.34M596.33 436.5h8.34M600.5 432.33v8.34M630.33 442.5h8.34M634.5 438.33v8.34M638.33 458.5h8.34M642.5 454.33v8.34M566.33 367.5h8.34M570.5 363.33v8.34M582.33 376.5h8.34M586.5 372.33v8.34M588.33 439.5h8.34M592.5 435.33v8.34M522.33 453.5h8.34M526.5 449.33v8.34M557.33 434.5h8.34M561.5 430.33v8.34M583.33 399.5h8.34M587.5 395.33v8.34M573.33 385.5h8.34M577.5 381.33v8.34M531.33 433.5h8.34M535.5 429.33v8.34M555.33 436.5h8.34M559.5 432.33v8.34M557.33 401.5h8.34M561.5 397.33v8.34M605.33 426.5h8.34M609.5 422.33v8.34M603.33 392.5h8.34M607.5 388.33v8.34M541.33 389.5h8.34M545.5 385.33v8.34M578.33 329.5h8.34M582.5 325.33v8.34M558.33 324.5h8.34M562.5 320.33v8.34M543.33 398.5h8.34M547.5 394.33v8.34M604.33 439.5h8.34M608.5 435.33v8.34M661.33 421.5h8.34M665.5 417.33v8.34M589.33 436.5h8.34M593.5 432.33v8.34M628.33 418.5h8.34M632.5 414.33v8.34M588.33 426.5h8.34M592.5 422.33v8.34M592.33 428.5h8.34M596.5 424.33v8.34M611.33 442.5h8.34M615.5 438.33v8.34M613.33 438.5h8.34M617.5 434.33v8.34M592.33 431.5h8.34M596.5 427.33v8.34M543.33 403.5h8.34M547.5 399.33v8.34M526.33 370.5h8.34M530.5 366.33v8.34M684.33 439.5h8.34M688.5 435.33v8.34M633.33 449.5h8.34M637.5 445.33v8.34M568.33 394.5h8.34M572.5 390.33v8.34M628.33 454.5h8.34M632.5 450.33v8.34M565.33 382.5h8.34M569.5 378.33v8.34M572.33 422.5h8.34M576.5 418.33v8.34M533.33 441.5h8.34M537.5 437.33v8.34M579.33 423.5h8.34M583.5 419.33v8.34M590.33 400.5h8.34M594.5 396.33v8.34M593.33 428.5h8.34M597.5 424.33v8.34M587.33 450.5h8.34M591.5 446.33v8.34M635.33 454.5h8.34M639.5 450.33v8.34M567.33 418.5h8.34M571.5 414.33v8.34M527.33 445.5h8.34M531.5 441.33v8.34M593.33 422.5h8.34M597.5 418.33v8.34M657.33 458.5h8.34M661.5 454.33v8.34M551.33 338.5h8.34M555.5 334.33v8.34M537.33 372.5h8.34M541.5 368.33v8.34M612.33 438.5h8.34M616.5 434.33v8.34M624.33 452.5h8.34M628.5 448.33v8.34M588.33 436.5h8.34M592.5 432.33v8.34M618.33 447.5h8.34M622.5 443.33v8.34M595.33 431.5h8.34M599.5 427.33v8.34M546.33 371.5h8.34M550.5 367.33v8.34M600.33 449.5h8.34M604.5 445.33v8.34M530.33 415.5h8.34M534.5 411.33v8.34M603.33 446.5h8.34M607.5 442.33v8.34M551.33 426.5h8.34M555.5 422.33v8.34M689.33 434.5h8.34M693.5 430.33v8.34M639.33 444.5h8.34M643.5 440.33v8.34M613.33 434.5h8.34M617.5 430.33v8.34M573.33 422.5h8.34M577.5 418.33v8.34M557.33 344.5h8.34M561.5 340.33v8.34M581.33 454.5h8.34M585.5 450.33v8.34M559.33 426.5h8.34M563.5 422.33v8.34M624.33 425.5h8.34M628.5 421.33v8.34M519.33 378.5h8.34M523.5 374.33v8.34M568.33 411.5h8.34M572.5 407.33v8.34M590.33 400.5h8.34M594.5 396.33v8.34M600.33 422.5h8.34M604.5 418.33v8.34M587.33 447.5h8.34M591.5 443.33v8.34M637.33 427.5h8.34M641.5 423.33v8.34M563.33 437.5h8.34M567.5 433.33v8.34M586.33 444.5h8.34M590.5 440.33v8.34M617.33 456.5h8.34M621.5 452.33v8.34M613.33 458.5h8.34M617.5 454.33v8.34M538.33 328.5h8.34M542.5 324.33v8.34M579.33 454.5h8.34M583.5 450.33v8.34M611.33 448.5h8.34M615.5 444.33v8.34M590.33 415.5h8.34M594.5 411.33v8.34M614.33 424.5h8.34M618.5 420.33v8.34M570.33 453.5h8.34M574.5 449.33v8.34M603.33 403.5h8.34M607.5 399.33v8.34M540.33 362.5h8.34M544.5 358.33v8.34M554.33 443.5h8.34M558.5 439.33v8.34M539.33 336.5h8.34M543.5 332.33v8.34M596.33 414.5h8.34M600.5 410.33v8.34M534.33 385.5h8.34M538.5 381.33v8.34M552.33 444.5h8.34M556.5 440.33v8.34M553.33 451.5h8.34M557.5 447.33v8.34M622.33 436.5h8.34M626.5 432.33v8.34M557.33 427.5h8.34M561.5 423.33v8.34M574.33 390.5h8.34M578.5 386.33v8.34M545.33 345.5h8.34M549.5 341.33v8.34M639.33 450.5h8.34M643.5 446.33v8.34M617.33 426.5h8.34M621.5 422.33v8.34M570.33 398.5h8.34M574.5 394.33v8.34M629.33 450.5h8.34M633.5 446.33v8.34M562.33 386.5h8.34M566.5 382.33v8.34M542.33 379.5h8.34M546.5 375.33v8.34M526.33 327.5h8.34M530.5 323.33v8.34M610.33 443.5h8.34M614.5 439.33v8.34M566.33 423.5h8.34M570.5 419.33v8.34M606.33 458.5h8.34M610.5 454.33v8.34M594.33 448.5h8.34M598.5 444.33v8.34M587.33 402.5h8.34M591.5 398.33v8.34M623.33 422.5h8.34M627.5 418.33v8.34M566.33 358.5h8.34M570.5 354.33v8.34M531.33 344.5h8.34M535.5 340.33v8.34M527.33 369.5h8.34M531.5 365.33v8.34M613.33 452.5h8.34M617.5 448.33v8.34M576.33 414.5h8.34M580.5 410.33v8.34M569.33 391.5h8.34M573.5 387.33v8.34M575.33 460.5h8.34M579.5 456.33v8.34M545.33 403.5h8.34M549.5 399.33v8.34M609.33 414.5h8.34M613.5 410.33v8.34M598.33 408.5h8.34M602.5 404.33v8.34M611.33 421.5h8.34M615.5 417.33v8.34M558.33 429.5h8.34M562.5 425.33v8.34M577.33 447.5h8.34M581.5 443.33v8.34M579.33 436.5h8.34M583.5 432.33v8.34M550.33 338.5h8.34M554.5 334.33v8.34M629.33 440.5h8.34M633.5 436.33v8.34M594.33 402.5h8.34M598.5 398.33v8.34M508.33 400.5h8.34M512.5 396.33v8.34M551.33 429.5h8.34M555.5 425.33v8.34M533.33 429.5h8.34M537.5 425.33v8.34M579.33 412.5h8.34M583.5 408.33v8.34M577.33 445.5h8.34M581.5 441.33v8.34M541.33 407.5h8.34M545.5 403.33v8.34M657.33 443.5h8.34M661.5 439.33v8.34M585.33 461.5h8.34M589.5 457.33v8.34M587.33 427.5h8.34M591.5 423.33v8.34M564.33 441.5h8.34M568.5 437.33v8.34M623.33 442.5h8.34M627.5 438.33v8.34M553.33 383.5h8.34M557.5 379.33v8.34M571.33 424.5h8.34M575.5 420.33v8.34M588.33 352.5h8.34M592.5 348.33v8.34M544.33 423.5h8.34M548.5 419.33v8.34M542.33 383.5h8.34M546.5 379.33v8.34M549.33 424.5h8.34M553.5 420.33v8.34M578.33 429.5h8.34M582.5 425.33v8.34M688.33 453.5h8.34M692.5 449.33v8.34M633.33 459.5h8.34M637.5 455.33v8.34M564.33 433.5h8.34M568.5 429.33v8.34M540.33 353.5h8.34M544.5 349.33v8.34M659.33 441.5h8.34M663.5 437.33v8.34M586.33 444.5h8.34M590.5 440.33v8.34M505.33 436.5h8.34M509.5 432.33v8.34M540.33 421.5h8.34M544.5 417.33v8.34M513.33 305.5h8.34M517.5 301.33v8.34M564.33 453.5h8.34M568.5 449.33v8.34M627.33 423.5h8.34M631.5 419.33v8.34M540.33 439.5h8.34M544.5 435.33v8.34M570.33 454.5h8.34M574.5 450.33v8.34M547.33 370.5h8.34M551.5 366.33v8.34M576.33 436.5h8.34M580.5 432.33v8.34M548.33 450.5h8.34M552.5 446.33v8.34M581.33 412.5h8.34M585.5 408.33v8.34M592.33 408.5h8.34M596.5 404.33v8.34M548.33 361.5h8.34M552.5 357.33v8.34M614.33 440.5h8.34M618.5 436.33v8.34M641.33 429.5h8.34M645.5 425.33v8.34M596.33 399.5h8.34M600.5 395.33v8.34M656.33 458.5h8.34M660.5 454.33v8.34M558.33 437.5h8.34M562.5 433.33v8.34M533.33 341.5h8.34M537.5 337.33v8.34M562.33 449.5h8.34M566.5 445.33v8.34M557.33 356.5h8.34M561.5 352.33v8.34M581.33 440.5h8.34M585.5 436.33v8.34M639.33 457.5h8.34M643.5 453.33v8.34M601.33 406.5h8.34M605.5 402.33v8.34M702.33 433.5h8.34M706.5 429.33v8.34M609.33 446.5h8.34M613.5 442.33v8.34M640.33 456.5h8.34M644.5 452.33v8.34M624.33 443.5h8.34M628.5 439.33v8.34M537.33 307.5h8.34M541.5 303.33v8.34M509.33 435.5h8.34M513.5 431.33v8.34M581.33 438.5h8.34M585.5 434.33v8.34M621.33 444.5h8.34M625.5 440.33v8.34M587.33 447.5h8.34M591.5 443.33v8.34M564.33 391.5h8.34M568.5 387.33v8.34M607.33 413.5h8.34M611.5 409.33v8.34M520.33 392.5h8.34M524.5 388.33v8.34M575.33 423.5h8.34M579.5 419.33v8.34M550.33 334.5h8.34M554.5 330.33v8.34M588.33 390.5h8.34M592.5 386.33v8.34M527.33 391.5h8.34M531.5 387.33v8.34M585.33 432.5h8.34M589.5 428.33v8.34M567.33 445.5h8.34M571.5 441.33v8.34M619.33 420.5h8.34M623.5 416.33v8.34M594.33 439.5h8.34M598.5 435.33v8.34M604.33 405.5h8.34M608.5 401.33v8.34M545.33 411.5h8.34M549.5 407.33v8.34M547.33 438.5h8.34M551.5 434.33v8.34M544.33 453.5h8.34M548.5 449.33v8.34M556.33 337.5h8.34M560.5 333.33v8.34M572.33 415.5h8.34M576.5 411.33v8.34M584.33 457.5h8.34M588.5 453.33v8.34M579.33 367.5h8.34M583.5 363.33v8.34M692.33 435.5h8.34M696.5 431.33v8.34M590.33 416.5h8.34M594.5 412.33v8.34M588.33 449.5h8.34M592.5 445.33v8.34M582.33 408.5h8.34M586.5 404.33v8.34M610.33 444.5h8.34M614.5 440.33v8.34M538.33 421.5h8.34M542.5 417.33v8.34M636.33 422.5h8.34M640.5 418.33v8.34M561.33 374.5h8.34M565.5 370.33v8.34M598.33 416.5h8.34M602.5 412.33v8.34M572.33 398.5h8.34M576.5 394.33v8.34M573.33 410.5h8.34M577.5 406.33v8.34M554.33 314.5h8.34M558.5 310.33v8.34M655.33 454.5h8.34M659.5 450.33v8.34M570.33 328.5h8.34M574.5 324.33v8.34M630.33 439.5h8.34M634.5 435.33v8.34M573.33 396.5h8.34M577.5 392.33v8.34M561.33 312.5h8.34M565.5 308.33v8.34M685.33 454.5h8.34M689.5 450.33v8.34M514.33 311.5h8.34M518.5 307.33v8.34M570.33 355.5h8.34M574.5 351.33v8.34M543.33 349.5h8.34M547.5 345.33v8.34M595.33 432.5h8.34M599.5 428.33v8.34M578.33 369.5h8.34M582.5 365.33v8.34M597.33 380.5h8.34M601.5 376.33v8.34M599.33 444.5h8.34M603.5 440.33v8.34M597.33 411.5h8.34M601.5 407.33v8.34M581.33 401.5h8.34M585.5 397.33v8.34M641.33 451.5h8.34M645.5 447.33v8.34M579.33 401.5h8.34M583.5 397.33v8.34M602.33 460.5h8.34M606.5 456.33v8.34M566.33 435.5h8.34M570.5 431.33v8.34M534.33 429.5h8.34M538.5 425.33v8.34M606.33 445.5h8.34M610.5 441.33v8.34M675.33 450.5h8.34M679.5 446.33v8.34M610.33 421.5h8.34M614.5 417.33v8.34M553.33 427.5h8.34M557.5 423.33v8.34M659.33 449.5h8.34M663.5 445.33v8.34M581.33 446.5h8.34M585.5 442.33v8.34M609.33 404.5h8.34M613.5 400.33v8.34M569.33 366.5h8.34M573.5 362.33v8.34M572.33 393.5h8.34M576.5 389.33v8.34M552.33 405.5h8.34M556.5 401.33v8.34M536.33 366.5h8.34M540.5 362.33v8.34M583.33 443.5h8.34M587.5 439.33v8.34M597.33 440.5h8.34M601.5 436.33v8.34M673.33 439.5h8.34M677.5 435.33v8.34M583.33 335.5h8.34M587.5 331.33v8.34M622.33 438.5h8.34M626.5 434.33v8.34M580.33 382.5h8.34M584.5 378.33v8.34M527.33 355.5h8.34M531.5 351.33v8.34M543.33 452.5h8.34M547.5 448.33v8.34M559.33 433.5h8.34M563.5 429.33v8.34M669.33 434.5h8.34M673.5 430.33v8.34M595.33 439.5h8.34M599.5 435.33v8.34M572.33 449.5h8.34M576.5 445.33v8.34M523.33 317.5h8.34M527.5 313.33v8.34M612.33 402.5h8.34M616.5 398.33v8.34M648.33 439.5h8.34M652.5 435.33v8.34M569.33 423.5h8.34M573.5 419.33v8.34M561.33 388.5h8.34M565.5 384.33v8.34M602.33 401.5h8.34M606.5 397.33v8.34M602.33 431.5h8.34M606.5 427.33v8.34M585.33 413.5h8.34M589.5 409.33v8.34M564.33 422.5h8.34M568.5 418.33v8.34M586.33 420.5h8.34M590.5 416.33v8.34M530.33 458.5h8.34M534.5 454.33v8.34M536.33 389.5h8.34M540.5 385.33v8.34M568.33 371.5h8.34M572.5 367.33v8.34M631.33 433.5h8.34M635.5 429.33v8.34M531.33 346.5h8.34M535.5 342.33v8.34M537.33 457.5h8.34M541.5 453.33v8.34M558.33 462.5h8.34M562.5 458.33v8.34M560.33 433.5h8.34M564.5 429.33v8.34M534.33 428.5h8.34M538.5 424.33v8.34M577.33 419.5h8.34M581.5 415.33v8.34M574.33 442.5h8.34M578.5 438.33v8.34M546.33 431.5h8.34M550.5 427.33v8.34M571.33 423.5h8.34M575.5 419.33v8.34M579.33 435.5h8.34M583.5 431.33v8.34M566.33 339.5h8.34M570.5 335.33v8.34M632.33 415.5h8.34M636.5 411.33v8.34M574.33 425.5h8.34M578.5 421.33v8.34M551.33 409.5h8.34M555.5 405.33v8.34M613.33 453.5h8.34M617.5 449.33v8.34M511.33 409.5h8.34M515.5 405.33v8.34M603.33 396.5h8.34M607.5 392.33v8.34M573.33 460.5h8.34M577.5 456.33v8.34M539.33 317.5h8.34M543.5 313.33v8.34M636.33 432.5h8.34M640.5 428.33v8.34M526.33 345.5h8.34M530.5 341.33v8.34M580.33 440.5h8.34M584.5 436.33v8.34M606.33 414.5h8.34M610.5 410.33v8.34M563.33 425.5h8.34M567.5 421.33v8.34M553.33 426.5h8.34M557.5 422.33v8.34M567.33 390.5h8.34M571.5 386.33v8.34M613.33 451.5h8.34M617.5 447.33v8.34M607.33 454.5h8.34M611.5 450.33v8.34M632.33 424.5h8.34M636.5 420.33v8.34M578.33 368.5h8.34M582.5 364.33v8.34M532.33 392.5h8.34M536.5 388.33v8.34M631.33 454.5h8.34M635.5 450.33v8.34M564.33 379.5h8.34M568.5 375.33v8.34M614.33 446.5h8.34M618.5 442.33v8.34M594.33 436.5h8.34M598.5 432.33v8.34M636.33 452.5h8.34M640.5 448.33v8.34M642.33 435.5h8.34M646.5 431.33v8.34M558.33 428.5h8.34M562.5 424.33v8.34M590.33 403.5h8.34M594.5 399.33v8.34M570.33 443.5h8.34M574.5 439.33v8.34M525.33 439.5h8.34M529.5 435.33v8.34M654.33 456.5h8.34M658.5 452.33v8.34M640.33 452.5h8.34M644.5 448.33v8.34M601.33 422.5h8.34M605.5 418.33v8.34M603.33 436.5h8.34M607.5 432.33v8.34M615.33 432.5h8.34M619.5 428.33v8.34M651.33 455.5h8.34M655.5 451.33v8.34M590.33 436.5h8.34M594.5 432.33v8.34M563.33 421.5h8.34M567.5 417.33v8.34M590.33 403.5h8.34M594.5 399.33v8.34M539.33 379.5h8.34M543.5 375.33v8.34M563.33 371.5h8.34M567.5 367.33v8.34M593.33 444.5h8.34M597.5 440.33v8.34M536.33 385.5h8.34M540.5 381.33v8.34M564.33 457.5h8.34M568.5 453.33v8.34M668.33 446.5h8.34M672.5 442.33v8.34M686.33 461.5h8.34M690.5 457.33v8.34M598.33 448.5h8.34M602.5 444.33v8.34M563.33 453.5h8.34M567.5 449.33v8.34M644.33 432.5h8.34M648.5 428.33v8.34M553.33 413.5h8.34M557.5 409.33v8.34M689.33 426.5h8.34M693.5 422.33v8.34M623.33 424.5h8.34M627.5 420.33v8.34M604.33 399.5h8.34M608.5 395.33v8.34M530.33 451.5h8.34M534.5 447.33v8.34M583.33 438.5h8.34M587.5 434.33v8.34M612.33 458.5h8.34M616.5 454.33v8.34M553.33 368.5h8.34M557.5 364.33v8.34M591.33 416.5h8.34M595.5 412.33v8.34M540.33 324.5h8.34M544.5 320.33v8.34M565.33 412.5h8.34M569.5 408.33v8.34M526.33 390.5h8.34M530.5 386.33v8.34M629.33 439.5h8.34M633.5 435.33v8.34M573.33 437.5h8.34M577.5 433.33v8.34M618.33 429.5h8.34M622.5 425.33v8.34M570.33 331.5h8.34M574.5 327.33v8.34M577.33 432.5h8.34M581.5 428.33v8.34M565.33 437.5h8.34M569.5 433.33v8.34M600.33 411.5h8.34M604.5 407.33v8.34M559.33 349.5h8.34M563.5 345.33v8.34M648.33 447.5h8.34M652.5 443.33v8.34M613.33 407.5h8.34M617.5 403.33v8.34M580.33 445.5h8.34M584.5 441.33v8.34M591.33 398.5h8.34M595.5 394.33v8.34M571.33 388.5h8.34M575.5 384.33v8.34M619.33 430.5h8.34M623.5 426.33v8.34M587.33 383.5h8.34M591.5 379.33v8.34M619.33 404.5h8.34M623.5 400.33v8.34M530.33 347.5h8.34M534.5 343.33v8.34M584.33 409.5h8.34M588.5 405.33v8.34M602.33 434.5h8.34M606.5 430.33v8.34M581.33 377.5h8.34M585.5 373.33v8.34M550.33 437.5h8.34M554.5 433.33v8.34M653.33 439.5h8.34M657.5 435.33v8.34M562.33 426.5h8.34M566.5 422.33v8.34M563.33 439.5h8.34M567.5 435.33v8.34M558.33 432.5h8.34M562.5 428.33v8.34M548.33 392.5h8.34M552.5 388.33v8.34M707.33 456.5h8.34M711.5 452.33v8.34M576.33 364.5h8.34M580.5 360.33v8.34M533.33 430.5h8.34M537.5 426.33v8.34M531.33 380.5h8.34M535.5 376.33v8.34M536.33 355.5h8.34M540.5 351.33v8.34M563.33 413.5h8.34M567.5 409.33v8.34M549.33 363.5h8.34M553.5 359.33v8.34M533.33 333.5h8.34M537.5 329.33v8.34M573.33 450.5h8.34M577.5 446.33v8.34M555.33 371.5h8.34M559.5 367.33v8.34M550.33 425.5h8.34M554.5 421.33v8.34M545.33 427.5h8.34M549.5 423.33v8.34M601.33 444.5h8.34M605.5 440.33v8.34M577.33 423.5h8.34M581.5 419.33v8.34M557.33 422.5h8.34M561.5 418.33v8.34M562.33 366.5h8.34M566.5 362.33v8.34M554.33 354.5h8.34M558.5 350.33v8.34M546.33 365.5h8.34M550.5 361.33v8.34M570.33 403.5h8.34M574.5 399.33v8.34M573.33 436.5h8.34M577.5 432.33v8.34M645.33 402.5h8.34M649.5 398.33v8.34M529.33 323.5h8.34M533.5 319.33v8.34M574.33 453.5h8.34M578.5 449.33v8.34M620.33 422.5h8.34M624.5 418.33v8.34M601.33 460.5h8.34M605.5 456.33v8.34M509.33 415.5h8.34M513.5 411.33v8.34M558.33 448.5h8.34M562.5 444.33v8.34M557.33 432.5h8.34M561.5 428.33v8.34M559.33 367.5h8.34M563.5 363.33v8.34M526.33 306.5h8.34M530.5 302.33v8.34M588.33 414.5h8.34M592.5 410.33v8.34M589.33 411.5h8.34M593.5 407.33v8.34M617.33 436.5h8.34M621.5 432.33v8.34M531.33 427.5h8.34M535.5 423.33v8.34M540.33 369.5h8.34M544.5 365.33v8.34M606.33 444.5h8.34M610.5 440.33v8.34M599.33 458.5h8.34M603.5 454.33v8.34M640.33 448.5h8.34M644.5 444.33v8.34M584.33 350.5h8.34M588.5 346.33v8.34M567.33 454.5h8.34M571.5 450.33v8.34M585.33 418.5h8.34M589.5 414.33v8.34M604.33 422.5h8.34M608.5 418.33v8.34M601.33 449.5h8.34M605.5 445.33v8.34M593.33 382.5h8.34M597.5 378.33v8.34M557.33 436.5h8.34M561.5 432.33v8.34M635.33 448.5h8.34M639.5 444.33v8.34M552.33 376.5h8.34M556.5 372.33v8.34M514.33 397.5h8.34M518.5 393.33v8.34M593.33 429.5h8.34M597.5 425.33v8.34M664.33 428.5h8.34M668.5 424.33v8.34M566.33 314.5h8.34M570.5 310.33v8.34M564.33 447.5h8.34M568.5 443.33v8.34M547.33 412.5h8.34M551.5 408.33v8.34M584.33 407.5h8.34M588.5 403.33v8.34M586.33 443.5h8.34M590.5 439.33v8.34M598.33 394.5h8.34M602.5 390.33v8.34M579.33 409.5h8.34M583.5 405.33v8.34M549.33 325.5h8.34M553.5 321.33v8.34M640.33 447.5h8.34M644.5 443.33v8.34M577.33 397.5h8.34M581.5 393.33v8.34M555.33 350.5h8.34M559.5 346.33v8.34M584.33 434.5h8.34M588.5 430.33v8.34M560.33 362.5h8.34M564.5 358.33v8.34M529.33 386.5h8.34M533.5 382.33v8.34M711.33 449.5h8.34M715.5 445.33v8.34M575.33 366.5h8.34M579.5 362.33v8.34M685.33 446.5h8.34M689.5 442.33v8.34M576.33 432.5h8.34M580.5 428.33v8.34M558.33 443.5h8.34M562.5 439.33v8.34M643.33 427.5h8.34M647.5 423.33v8.34M635.33 451.5h8.34M639.5 447.33v8.34M603.33 407.5h8.34M607.5 403.33v8.34M602.33 443.5h8.34M606.5 439.33v8.34M530.33 314.5h8.34M534.5 310.33v8.34M612.33 450.5h8.34M616.5 446.33v8.34M589.33 414.5h8.34M593.5 410.33v8.34M561.33 436.5h8.34M565.5 432.33v8.34M619.33 418.5h8.34M623.5 414.33v8.34M656.33 447.5h8.34M660.5 443.33v8.34M623.33 446.5h8.34M627.5 442.33v8.34M611.33 416.5h8.34M615.5 412.33v8.34M547.33 440.5h8.34M551.5 436.33v8.34M537.33 459.5h8.34M541.5 455.33v8.34M570.33 414.5h8.34M574.5 410.33v8.34M529.33 367.5h8.34M533.5 363.33v8.34M620.33 444.5h8.34M624.5 440.33v8.34M666.33 451.5h8.34M670.5 447.33v8.34M576.33 330.5h8.34M580.5 326.33v8.34M537.33 372.5h8.34M541.5 368.33v8.34M562.33 445.5h8.34M566.5 441.33v8.34M559.33 367.5h8.34M563.5 363.33v8.34M564.33 407.5h8.34M568.5 403.33v8.34M586.33 384.5h8.34M590.5 380.33v8.34M656.33 448.5h8.34M660.5 444.33v8.34M602.33 452.5h8.34M606.5 448.33v8.34M531.33 436.5h8.34M535.5 432.33v8.34M561.33 414.5h8.34M565.5 410.33v8.34M562.33 382.5h8.34M566.5 378.33v8.34M631.33 448.5h8.34M635.5 444.33v8.34M569.33 430.5h8.34M573.5 426.33v8.34M615.33 446.5h8.34M619.5 442.33v8.34M529.33 333.5h8.34M533.5 329.33v8.34M599.33 409.5h8.34M603.5 405.33v8.34M605.33 436.5h8.34M609.5 432.33v8.34M521.33 319.5h8.34M525.5 315.33v8.34M636.33 439.5h8.34M640.5 435.33v8.34M553.33 457.5h8.34M557.5 453.33v8.34M598.33 436.5h8.34M602.5 432.33v8.34M572.33 430.5h8.34M576.5 426.33v8.34M538.33 424.5h8.34M542.5 420.33v8.34M549.33 377.5h8.34M553.5 373.33v8.34M602.33 443.5h8.34M606.5 439.33v8.34M580.33 372.5h8.34M584.5 368.33v8.34M656.33 437.5h8.34M660.5 433.33v8.34M570.33 381.5h8.34M574.5 377.33v8.34M564.33 443.5h8.34M568.5 439.33v8.34M619.33 421.5h8.34M623.5 417.33v8.34M589.33 408.5h8.34M593.5 404.33v8.34M607.33 412.5h8.34M611.5 408.33v8.34M543.33 417.5h8.34M547.5 413.33v8.34M546.33 447.5h8.34M550.5 443.33v8.34M605.33 455.5h8.34M609.5 451.33v8.34M592.33 443.5h8.34M596.5 439.33v8.34M605.33 419.5h8.34M609.5 415.33v8.34M584.33 408.5h8.34M588.5 404.33v8.34M629.33 421.5h8.34M633.5 417.33v8.34M563.33 374.5h8.34M567.5 370.33v8.34M600.33 451.5h8.34M604.5 447.33v8.34M538.33 322.5h8.34M542.5 318.33v8.34M536.33 384.5h8.34M540.5 380.33v8.34M599.33 448.5h8.34M603.5 444.33v8.34M582.33 443.5h8.34M586.5 439.33v8.34M575.33 399.5h8.34M579.5 395.33v8.34M575.33 451.5h8.34M579.5 447.33v8.34M558.33 421.5h8.34M562.5 417.33v8.34M631.33 433.5h8.34M635.5 429.33v8.34M620.33 455.5h8.34M624.5 451.33v8.34M554.33 411.5h8.34M558.5 407.33v8.34M581.33 434.5h8.34M585.5 430.33v8.34M546.33 354.5h8.34M550.5 350.33v8.34M694.33 431.5h8.34M698.5 427.33v8.34M602.33 373.5h8.34M606.5 369.33v8.34M553.33 407.5h8.34M557.5 403.33v8.34M538.33 317.5h8.34M542.5 313.33v8.34M671.33 453.5h8.34M675.5 449.33v8.34M578.33 386.5h8.34M582.5 382.33v8.34M590.33 444.5h8.34M594.5 440.33v8.34M704.33 444.5h8.34M708.5 440.33v8.34M598.33 436.5h8.34M602.5 432.33v8.34M590.33 459.5h8.34M594.5 455.33v8.34M598.33 407.5h8.34M602.5 403.33v8.34M638.33 426.5h8.34M642.5 422.33v8.34M628.33 432.5h8.34M632.5 428.33v8.34M525.33 360.5h8.34M529.5 356.33v8.34M583.33 447.5h8.34M587.5 443.33v8.34M553.33 334.5h8.34M557.5 330.33v8.34M548.33 442.5h8.34M552.5 438.33v8.34M562.33 432.5h8.34M566.5 428.33v8.34M547.33 326.5h8.34M551.5 322.33v8.34M576.33 388.5h8.34M580.5 384.33v8.34M529.33 435.5h8.34M533.5 431.33v8.34M569.33 418.5h8.34M573.5 414.33v8.34M539.33 340.5h8.34M543.5 336.33v8.34M564.33 388.5h8.34M568.5 384.33v8.34M613.33 451.5h8.34M617.5 447.33v8.34M573.33 354.5h8.34M577.5 350.33v8.34M511.33 456.5h8.34M515.5 452.33v8.34M607.33 435.5h8.34M611.5 431.33v8.34M557.33 406.5h8.34M561.5 402.33v8.34M557.33 378.5h8.34M561.5 374.33v8.34M575.33 326.5h8.34M579.5 322.33v8.34M579.33 407.5h8.34M583.5 403.33v8.34M587.33 376.5h8.34M591.5 372.33v8.34M547.33 361.5h8.34M551.5 357.33v8.34M541.33 419.5h8.34M545.5 415.33v8.34M571.33 405.5h8.34M575.5 401.33v8.34M648.33 454.5h8.34M652.5 450.33v8.34M574.33 375.5h8.34M578.5 371.33v8.34M597.33 432.5h8.34M601.5 428.33v8.34M549.33 357.5h8.34M553.5 353.33v8.34M641.33 447.5h8.34M645.5 443.33v8.34M573.33 427.5h8.34M577.5 423.33v8.34M545.33 371.5h8.34M549.5 367.33v8.34M618.33 450.5h8.34M622.5 446.33v8.34M544.33 402.5h8.34M548.5 398.33v8.34M680.33 437.5h8.34M684.5 433.33v8.34M592.33 429.5h8.34M596.5 425.33v8.34M522.33 422.5h8.34M526.5 418.33v8.34M642.33 447.5h8.34M646.5 443.33v8.34M603.33 381.5h8.34M607.5 377.33v8.34M525.33 321.5h8.34M529.5 317.33v8.34M568.33 427.5h8.34M572.5 423.33v8.34M544.33 331.5h8.34M548.5 327.33v8.34M572.33 365.5h8.34M576.5 361.33v8.34M578.33 369.5h8.34M582.5 365.33v8.34M525.33 397.5h8.34M529.5 393.33v8.34M560.33 328.5h8.34M564.5 324.33v8.34M610.33 437.5h8.34M614.5 433.33v8.34M668.33 456.5h8.34M672.5 452.33v8.34M631.33 458.5h8.34M635.5 454.33v8.34M601.33 446.5h8.34M605.5 442.33v8.34M554.33 344.5h8.34M558.5 340.33v8.34M589.33 420.5h8.34M593.5 416.33v8.34M552.33 328.5h8.34M556.5 324.33v8.34M563.33 402.5h8.34M567.5 398.33v8.34M692.33 459.5h8.34M696.5 455.33v8.34M552.33 453.5h8.34M556.5 449.33v8.34M514.33 457.5h8.34M518.5 453.33v8.34M583.33 450.5h8.34M587.5 446.33v8.34M619.33 447.5h8.34M623.5 443.33v8.34M573.33 420.5h8.34M577.5 416.33v8.34M560.33 340.5h8.34M564.5 336.33v8.34M563.33 333.5h8.34M567.5 329.33v8.34M580.33 402.5h8.34M584.5 398.33v8.34M607.33 417.5h8.34M611.5 413.33v8.34M539.33 320.5h8.34M543.5 316.33v8.34M551.33 376.5h8.34M555.5 372.33v8.34M610.33 411.5h8.34M614.5 407.33v8.34M559.33 381.5h8.34M563.5 377.33v8.34M617.33 432.5h8.34M621.5 428.33v8.34M577.33 442.5h8.34M581.5 438.33v8.34M645.33 441.5h8.34M649.5 437.33v8.34M670.33 460.5h8.34M674.5 456.33v8.34M607.33 405.5h8.34M611.5 401.33v8.34M567.33 417.5h8.34M571.5 413.33v8.34M585.33 448.5h8.34M589.5 444.33v8.34M571.33 455.5h8.34M575.5 451.33v8.34M619.33 418.5h8.34M623.5 414.33v8.34M540.33 360.5h8.34M544.5 356.33v8.34M588.33 434.5h8.34M592.5 430.33v8.34M558.33 440.5h8.34M562.5 436.33v8.34M631.33 433.5h8.34M635.5 429.33v8.34M611.33 446.5h8.34M615.5 442.33v8.34M521.33 332.5h8.34M525.5 328.33v8.34M550.33 356.5h8.34M554.5 352.33v8.34M585.33 399.5h8.34M589.5 395.33v8.34M598.33 380.5h8.34M602.5 376.33v8.34M558.33 424.5h8.34M562.5 420.33v8.34M558.33 428.5h8.34M562.5 424.33v8.34M611.33 457.5h8.34M615.5 453.33v8.34M520.33 375.5h8.34M524.5 371.33v8.34M586.33 412.5h8.34M590.5 408.33v8.34M595.33 435.5h8.34M599.5 431.33v8.34M652.33 415.5h8.34M656.5 411.33v8.34M560.33 461.5h8.34M564.5 457.33v8.34M545.33 453.5h8.34M549.5 449.33v8.34M613.33 400.5h8.34M617.5 396.33v8.34M607.33 443.5h8.34M611.5 439.33v8.34M611.33 455.5h8.34M615.5 451.33v8.34M581.33 430.5h8.34M585.5 426.33v8.34M512.33 418.5h8.34M516.5 414.33v8.34M575.33 395.5h8.34M579.5 391.33v8.34M540.33 359.5h8.34M544.5 355.33v8.34M633.33 455.5h8.34M637.5 451.33v8.34M589.33 438.5h8.34M593.5 434.33v8.34M606.33 448.5h8.34M610.5 444.33v8.34M586.33 391.5h8.34M590.5 387.33v8.34M629.33 422.5h8.34M633.5 418.33v8.34M606.33 455.5h8.34M610.5 451.33v8.34M546.33 426.5h8.34M550.5 422.33v8.34M530.33 331.5h8.34M534.5 327.33v8.34M518.33 440.5h8.34M522.5 436.33v8.34M587.33 402.5h8.34M591.5 398.33v8.34M591.33 427.5h8.34M595.5 423.33v8.34M541.33 373.5h8.34M545.5 369.33v8.34M534.33 450.5h8.34M538.5 446.33v8.34M685.33 453.5h8.34M689.5 449.33v8.34M568.33 451.5h8.34M572.5 447.33v8.34M666.33 429.5h8.34M670.5 425.33v8.34M663.33 449.5h8.34M667.5 445.33v8.34M593.33 436.5h8.34M597.5 432.33v8.34M611.33 442.5h8.34M615.5 438.33v8.34M622.33 445.5h8.34M626.5 441.33v8.34M542.33 395.5h8.34M546.5 391.33v8.34M647.33 421.5h8.34M651.5 417.33v8.34M568.33 428.5h8.34M572.5 424.33v8.34M612.33 449.5h8.34M616.5 445.33v8.34M561.33 441.5h8.34M565.5 437.33v8.34M545.33 327.5h8.34M549.5 323.33v8.34M603.33 438.5h8.34M607.5 434.33v8.34M547.33 374.5h8.34M551.5 370.33v8.34M567.33 426.5h8.34M571.5 422.33v8.34M569.33 378.5h8.34M573.5 374.33v8.34M575.33 318.5h8.34M579.5 314.33v8.34M611.33 422.5h8.34M615.5 418.33v8.34M615.33 438.5h8.34M619.5 434.33v8.34M614.33 398.5h8.34M618.5 394.33v8.34M617.33 444.5h8.34M621.5 440.33v8.34M629.33 431.5h8.34M633.5 427.33v8.34M636.33 452.5h8.34M640.5 448.33v8.34M550.33 404.5h8.34M554.5 400.33v8.34M568.33 337.5h8.34M572.5 333.33v8.34M526.33 341.5h8.34M530.5 337.33v8.34M607.33 444.5h8.34M611.5 440.33v8.34M576.33 430.5h8.34M580.5 426.33v8.34M604.33 461.5h8.34M608.5 457.33v8.34M533.33 381.5h8.34M537.5 377.33v8.34M556.33 398.5h8.34M560.5 394.33v8.34M598.33 397.5h8.34M602.5 393.33v8.34M556.33 454.5h8.34M560.5 450.33v8.34M604.33 427.5h8.34M608.5 423.33v8.34M562.33 421.5h8.34M566.5 417.33v8.34M569.33 391.5h8.34M573.5 387.33v8.34M619.33 448.5h8.34M623.5 444.33v8.34M629.33 421.5h8.34M633.5 417.33v8.34M547.33 372.5h8.34M551.5 368.33v8.34M554.33 391.5h8.34M558.5 387.33v8.34M585.33 421.5h8.34M589.5 417.33v8.34M607.33 437.5h8.34M611.5 433.33v8.34M621.33 461.5h8.34M625.5 457.33v8.34M635.33 446.5h8.34M639.5 442.33v8.34M639.33 449.5h8.34M643.5 445.33v8.34M552.33 364.5h8.34M556.5 360.33v8.34M592.33 418.5h8.34M596.5 414.33v8.34M579.33 401.5h8.34M583.5 397.33v8.34M529.33 385.5h8.34M533.5 381.33v8.34M578.33 384.5h8.34M582.5 380.33v8.34M618.33 448.5h8.34M622.5 444.33v8.34M578.33 420.5h8.34M582.5 416.33v8.34M602.33 423.5h8.34M606.5 419.33v8.34M576.33 403.5h8.34M580.5 399.33v8.34M596.33 445.5h8.34M600.5 441.33v8.34M607.33 431.5h8.34M611.5 427.33v8.34M528.33 367.5h8.34M532.5 363.33v8.34M533.33 453.5h8.34M537.5 449.33v8.34M524.33 460.5h8.34M528.5 456.33v8.34M555.33 430.5h8.34M559.5 426.33v8.34M573.33 317.5h8.34M577.5 313.33v8.34M665.33 456.5h8.34M669.5 452.33v8.34M567.33 425.5h8.34M571.5 421.33v8.34M553.33 438.5h8.34M557.5 434.33v8.34M656.33 455.5h8.34M660.5 451.33v8.34M587.33 383.5h8.34M591.5 379.33v8.34M548.33 383.5h8.34M552.5 379.33v8.34M674.33 456.5h8.34M678.5 452.33v8.34M600.33 438.5h8.34M604.5 434.33v8.34M582.33 379.5h8.34M586.5 375.33v8.34M591.33 417.5h8.34M595.5 413.33v8.34M606.33 412.5h8.34M610.5 408.33v8.34M566.33 459.5h8.34M570.5 455.33v8.34M521.33 459.5h8.34M525.5 455.33v8.34M623.33 421.5h8.34M627.5 417.33v8.34M577.33 443.5h8.34M581.5 439.33v8.34M520.33 459.5h8.34M524.5 455.33v8.34M597.33 453.5h8.34M601.5 449.33v8.34M598.33 426.5h8.34M602.5 422.33v8.34M567.33 446.5h8.34M571.5 442.33v8.34M551.33 345.5h8.34M555.5 341.33v8.34M532.33 445.5h8.34M536.5 441.33v8.34M546.33 360.5h8.34M550.5 356.33v8.34M573.33 435.5h8.34M577.5 431.33v8.34M523.33 352.5h8.34M527.5 348.33v8.34M578.33 427.5h8.34M582.5 423.33v8.34M580.33 387.5h8.34M584.5 383.33v8.34M608.33 448.5h8.34M612.5 444.33v8.34M577.33 392.5h8.34M581.5 388.33v8.34M616.33 444.5h8.34M620.5 440.33v8.34M573.33 408.5h8.34M577.5 404.33v8.34M513.33 363.5h8.34M517.5 359.33v8.34M529.33 311.5h8.34M533.5 307.33v8.34M573.33 426.5h8.34M577.5 422.33v8.34M624.33 438.5h8.34M628.5 434.33v8.34M541.33 327.5h8.34M545.5 323.33v8.34M662.33 424.5h8.34M666.5 420.33v8.34M525.33 339.5h8.34M529.5 335.33v8.34M566.33 440.5h8.34M570.5 436.33v8.34M520.33 404.5h8.34M524.5 400.33v8.34M565.33 445.5h8.34M569.5 441.33v8.34M532.33 434.5h8.34M536.5 430.33v8.34M558.33 440.5h8.34M562.5 436.33v8.34M530.33 362.5h8.34M534.5 358.33v8.34M601.33 451.5h8.34M605.5 447.33v8.34M619.33 422.5h8.34M623.5 418.33v8.34M613.33 428.5h8.34M617.5 424.33v8.34M592.33 419.5h8.34M596.5 415.33v8.34M547.33 388.5h8.34M551.5 384.33v8.34M603.33 455.5h8.34M607.5 451.33v8.34M590.33 435.5h8.34M594.5 431.33v8.34M512.33 462.5h8.34M516.5 458.33v8.34M585.33 392.5h8.34M589.5 388.33v8.34M588.33 394.5h8.34M592.5 390.33v8.34M590.33 429.5h8.34M594.5 425.33v8.34M569.33 423.5h8.34M573.5 419.33v8.34M596.33 409.5h8.34M600.5 405.33v8.34M575.33 460.5h8.34M579.5 456.33v8.34M601.33 394.5h8.34M605.5 390.33v8.34M576.33 443.5h8.34M580.5 439.33v8.34M616.33 429.5h8.34M620.5 425.33v8.34M544.33 431.5h8.34M548.5 427.33v8.34M552.33 447.5h8.34M556.5 443.33v8.34M586.33 433.5h8.34M590.5 429.33v8.34M656.33 435.5h8.34M660.5 431.33v8.34M566.33 423.5h8.34M570.5 419.33v8.34M551.33 412.5h8.34M555.5 408.33v8.34M584.33 456.5h8.34M588.5 452.33v8.34M644.33 450.5h8.34M648.5 446.33v8.34M613.33 453.5h8.34M617.5 449.33v8.34M571.33 393.5h8.34M575.5 389.33v8.34M623.33 451.5h8.34M627.5 447.33v8.34M609.33 430.5h8.34M613.5 426.33v8.34M638.33 445.5h8.34M642.5 441.33v8.34M549.33 419.5h8.34M553.5 415.33v8.34M570.33 392.5h8.34M574.5 388.33v8.34M588.33 410.5h8.34M592.5 406.33v8.34M558.33 431.5h8.34M562.5 427.33v8.34M561.33 436.5h8.34M565.5 432.33v8.34M585.33 446.5h8.34M589.5 442.33v8.34M529.33 403.5h8.34M533.5 399.33v8.34M548.33 369.5h8.34M552.5 365.33v8.34M552.33 329.5h8.34M556.5 325.33v8.34M613.33 425.5h8.34M617.5 421.33v8.34M572.33 452.5h8.34M576.5 448.33v8.34M595.33 395.5h8.34M599.5 391.33v8.34M558.33 441.5h8.34M562.5 437.33v8.34M567.33 345.5h8.34M571.5 341.33v8.34M607.33 447.5h8.34M611.5 443.33v8.34M597.33 411.5h8.34M601.5 407.33v8.34M571.33 421.5h8.34M575.5 417.33v8.34M535.33 433.5h8.34M539.5 429.33v8.34M517.33 322.5h8.34M521.5 318.33v8.34M647.33 455.5h8.34M651.5 451.33v8.34M576.33 393.5h8.34M580.5 389.33v8.34M564.33 397.5h8.34M568.5 393.33v8.34M604.33 421.5h8.34M608.5 417.33v8.34M614.33 421.5h8.34M618.5 417.33v8.34M580.33 374.5h8.34M584.5 370.33v8.34M606.33 438.5h8.34M610.5 434.33v8.34M555.33 413.5h8.34M559.5 409.33v8.34M554.33 449.5h8.34M558.5 445.33v8.34M582.33 416.5h8.34M586.5 412.33v8.34M569.33 346.5h8.34M573.5 342.33v8.34M612.33 459.5h8.34M616.5 455.33v8.34M642.33 440.5h8.34M646.5 436.33v8.34M614.33 438.5h8.34M618.5 434.33v8.34M568.33 444.5h8.34M572.5 440.33v8.34M559.33 358.5h8.34M563.5 354.33v8.34M640.33 456.5h8.34M644.5 452.33v8.34M591.33 423.5h8.34M595.5 419.33v8.34M550.33 409.5h8.34M554.5 405.33v8.34M621.33 425.5h8.34M625.5 421.33v8.34M571.33 368.5h8.34M575.5 364.33v8.34M525.33 356.5h8.34M529.5 352.33v8.34M697.33 456.5h8.34M701.5 452.33v8.34M522.33 321.5h8.34M526.5 317.33v8.34M542.33 350.5h8.34M546.5 346.33v8.34M596.33 398.5h8.34M600.5 394.33v8.34M597.33 440.5h8.34M601.5 436.33v8.34M535.33 333.5h8.34M539.5 329.33v8.34M623.33 454.5h8.34M627.5 450.33v8.34M570.33 388.5h8.34M574.5 384.33v8.34M581.33 448.5h8.34M585.5 444.33v8.34M560.33 409.5h8.34M564.5 405.33v8.34M548.33 437.5h8.34M552.5 433.33v8.34M652.33 456.5h8.34M656.5 452.33v8.34M533.33 381.5h8.34M537.5 377.33v8.34M604.33 452.5h8.34M608.5 448.33v8.34M538.33 408.5h8.34M542.5 404.33v8.34M552.33 458.5h8.34M556.5 454.33v8.34M528.33 319.5h8.34M532.5 315.33v8.34M566.33 402.5h8.34M570.5 398.33v8.34M568.33 402.5h8.34M572.5 398.33v8.34M610.33 414.5h8.34M614.5 410.33v8.34M609.33 445.5h8.34M613.5 441.33v8.34M557.33 371.5h8.34M561.5 367.33v8.34M570.33 355.5h8.34M574.5 351.33v8.34M539.33 344.5h8.34M543.5 340.33v8.34M604.33 410.5h8.34M608.5 406.33v8.34M566.33 386.5h8.34M570.5 382.33v8.34M544.33 448.5h8.34M548.5 444.33v8.34M552.33 391.5h8.34M556.5 387.33v8.34M599.33 420.5h8.34M603.5 416.33v8.34M565.33 369.5h8.34M569.5 365.33v8.34M569.33 395.5h8.34M573.5 391.33v8.34M581.33 426.5h8.34M585.5 422.33v8.34M551.33 420.5h8.34M555.5 416.33v8.34M603.33 400.5h8.34M607.5 396.33v8.34M624.33 383.5h8.34M628.5 379.33v8.34M597.33 395.5h8.34M601.5 391.33v8.34M574.33 385.5h8.34M578.5 381.33v8.34M617.33 421.5h8.34M621.5 417.33v8.34M580.33 333.5h8.34M584.5 329.33v8.34M567.33 457.5h8.34M571.5 453.33v8.34M587.33 436.5h8.34M591.5 432.33v8.34M629.33 436.5h8.34M633.5 432.33v8.34M571.33 365.5h8.34M575.5 361.33v8.34M680.33 459.5h8.34M684.5 455.33v8.34M594.33 368.5h8.34M598.5 364.33v8.34M593.33 382.5h8.34M597.5 378.33v8.34M556.33 334.5h8.34M560.5 330.33v8.34M650.33 445.5h8.34M654.5 441.33v8.34M576.33 421.5h8.34M580.5 417.33v8.34M555.33 455.5h8.34M559.5 451.33v8.34M580.33 375.5h8.34M584.5 371.33v8.34M554.33 443.5h8.34M558.5 439.33v8.34M507.33 412.5h8.34M511.5 408.33v8.34M610.33 389.5h8.34M614.5 385.33v8.34M548.33 320.5h8.34M552.5 316.33v8.34M564.33 414.5h8.34M568.5 410.33v8.34M604.33 421.5h8.34M608.5 417.33v8.34M569.33 439.5h8.34M573.5 435.33v8.34M601.33 421.5h8.34M605.5 417.33v8.34M571.33 421.5h8.34M575.5 417.33v8.34M571.33 434.5h8.34M575.5 430.33v8.34M553.33 432.5h8.34M557.5 428.33v8.34M633.33 455.5h8.34M637.5 451.33v8.34M548.33 458.5h8.34M552.5 454.33v8.34M560.33 437.5h8.34M564.5 433.33v8.34M546.33 393.5h8.34M550.5 389.33v8.34M620.33 444.5h8.34M624.5 440.33v8.34M559.33 411.5h8.34M563.5 407.33v8.34M685.33 441.5h8.34M689.5 437.33v8.34M606.33 456.5h8.34M610.5 452.33v8.34M583.33 400.5h8.34M587.5 396.33v8.34M588.33 449.5h8.34M592.5 445.33v8.34M554.33 397.5h8.34M558.5 393.33v8.34M642.33 462.5h8.34M646.5 458.33v8.34M632.33 452.5h8.34M636.5 448.33v8.34M546.33 348.5h8.34M550.5 344.33v8.34M539.33 429.5h8.34M543.5 425.33v8.34M532.33 382.5h8.34M536.5 378.33v8.34M518.33 391.5h8.34M522.5 387.33v8.34M569.33 452.5h8.34M573.5 448.33v8.34M591.33 419.5h8.34M595.5 415.33v8.34M563.33 397.5h8.34M567.5 393.33v8.34M551.33 338.5h8.34M555.5 334.33v8.34M546.33 432.5h8.34M550.5 428.33v8.34M613.33 422.5h8.34M617.5 418.33v8.34M509.33 400.5h8.34M513.5 396.33v8.34M593.33 422.5h8.34M597.5 418.33v8.34M599.33 402.5h8.34M603.5 398.33v8.34M541.33 334.5h8.34M545.5 330.33v8.34M536.33 347.5h8.34M540.5 343.33v8.34M586.33 366.5h8.34M590.5 362.33v8.34M681.33 435.5h8.34M685.5 431.33v8.34M549.33 312.5h8.34M553.5 308.33v8.34M573.33 419.5h8.34M577.5 415.33v8.34M577.33 452.5h8.34M581.5 448.33v8.34M542.33 446.5h8.34M546.5 442.33v8.34M531.33 336.5h8.34M535.5 332.33v8.34M577.33 431.5h8.34M581.5 427.33v8.34M577.33 435.5h8.34M581.5 431.33v8.34M582.33 358.5h8.34M586.5 354.33v8.34M551.33 448.5h8.34M555.5 444.33v8.34M589.33 447.5h8.34M593.5 443.33v8.34M535.33 392.5h8.34M539.5 388.33v8.34M565.33 439.5h8.34M569.5 435.33v8.34M553.33 305.5h8.34M557.5 301.33v8.34M584.33 451.5h8.34M588.5 447.33v8.34M521.33 428.5h8.34M525.5 424.33v8.34M527.33 357.5h8.34M531.5 353.33v8.34M572.33 403.5h8.34M576.5 399.33v8.34M595.33 397.5h8.34M599.5 393.33v8.34M618.33 456.5h8.34M622.5 452.33v8.34M531.33 350.5h8.34M535.5 346.33v8.34M537.33 353.5h8.34M541.5 349.33v8.34M566.33 435.5h8.34M570.5 431.33v8.34M547.33 402.5h8.34M551.5 398.33v8.34M545.33 364.5h8.34M549.5 360.33v8.34M523.33 403.5h8.34M527.5 399.33v8.34M600.33 446.5h8.34M604.5 442.33v8.34M538.33 340.5h8.34M542.5 336.33v8.34M593.33 440.5h8.34M597.5 436.33v8.34M524.33 427.5h8.34M528.5 423.33v8.34M581.33 391.5h8.34M585.5 387.33v8.34M546.33 365.5h8.34M550.5 361.33v8.34M537.33 347.5h8.34M541.5 343.33v8.34M646.33 453.5h8.34M650.5 449.33v8.34M587.33 404.5h8.34M591.5 400.33v8.34M540.33 423.5h8.34M544.5 419.33v8.34M618.33 432.5h8.34M622.5 428.33v8.34M576.33 383.5h8.34M580.5 379.33v8.34M585.33 462.5h8.34M589.5 458.33v8.34M589.33 396.5h8.34M593.5 392.33v8.34M605.33 452.5h8.34M609.5 448.33v8.34M589.33 429.5h8.34M593.5 425.33v8.34M573.33 428.5h8.34M577.5 424.33v8.34M513.33 347.5h8.34M517.5 343.33v8.34M634.33 435.5h8.34M638.5 431.33v8.34M642.33 454.5h8.34M646.5 450.33v8.34M580.33 400.5h8.34M584.5 396.33v8.34M604.33 448.5h8.34M608.5 444.33v8.34M646.33 410.5h8.34M650.5 406.33v8.34M677.33 456.5h8.34M681.5 452.33v8.34M593.33 420.5h8.34M597.5 416.33v8.34M548.33 415.5h8.34M552.5 411.33v8.34M654.33 442.5h8.34M658.5 438.33v8.34M640.33 446.5h8.34M644.5 442.33v8.34M596.33 405.5h8.34M600.5 401.33v8.34M597.33 422.5h8.34M601.5 418.33v8.34M575.33 379.5h8.34M579.5 375.33v8.34M577.33 458.5h8.34M581.5 454.33v8.34M527.33 351.5h8.34M531.5 347.33v8.34M557.33 391.5h8.34M561.5 387.33v8.34M588.33 409.5h8.34M592.5 405.33v8.34M530.33 319.5h8.34M534.5 315.33v8.34M562.33 432.5h8.34M566.5 428.33v8.34M569.33 388.5h8.34M573.5 384.33v8.34M625.33 413.5h8.34M629.5 409.33v8.34M629.33 416.5h8.34M633.5 412.33v8.34M585.33 401.5h8.34M589.5 397.33v8.34M535.33 369.5h8.34M539.5 365.33v8.34M544.33 360.5h8.34M548.5 356.33v8.34M588.33 439.5h8.34M592.5 435.33v8.34M573.33 430.5h8.34M577.5 426.33v8.34M531.33 328.5h8.34M535.5 324.33v8.34M575.33 415.5h8.34M579.5 411.33v8.34M516.33 310.5h8.34M520.5 306.33v8.34M546.33 368.5h8.34M550.5 364.33v8.34M578.33 408.5h8.34M582.5 404.33v8.34M587.33 443.5h8.34M591.5 439.33v8.34M633.33 456.5h8.34M637.5 452.33v8.34M542.33 457.5h8.34M546.5 453.33v8.34M544.33 431.5h8.34M548.5 427.33v8.34M555.33 316.5h8.34M559.5 312.33v8.34M586.33 384.5h8.34M590.5 380.33v8.34M569.33 439.5h8.34M573.5 435.33v8.34M623.33 449.5h8.34M627.5 445.33v8.34M555.33 343.5h8.34M559.5 339.33v8.34M532.33 342.5h8.34M536.5 338.33v8.34M613.33 441.5h8.34M617.5 437.33v8.34M576.33 414.5h8.34M580.5 410.33v8.34M573.33 408.5h8.34M577.5 404.33v8.34M566.33 455.5h8.34M570.5 451.33v8.34M570.33 449.5h8.34M574.5 445.33v8.34M587.33 439.5h8.34M591.5 435.33v8.34M570.33 411.5h8.34M574.5 407.33v8.34M557.33 400.5h8.34M561.5 396.33v8.34M557.33 375.5h8.34M561.5 371.33v8.34M605.33 418.5h8.34M609.5 414.33v8.34M614.33 427.5h8.34M618.5 423.33v8.34M632.33 431.5h8.34M636.5 427.33v8.34M637.33 460.5h8.34M641.5 456.33v8.34M538.33 445.5h8.34M542.5 441.33v8.34M610.33 416.5h8.34M614.5 412.33v8.34M622.33 459.5h8.34M626.5 455.33v8.34M558.33 374.5h8.34M562.5 370.33v8.34M590.33 413.5h8.34M594.5 409.33v8.34M613.33 445.5h8.34M617.5 441.33v8.34M563.33 455.5h8.34M567.5 451.33v8.34M591.33 433.5h8.34M595.5 429.33v8.34M585.33 388.5h8.34M589.5 384.33v8.34M593.33 442.5h8.34M597.5 438.33v8.34M578.33 460.5h8.34M582.5 456.33v8.34M656.33 440.5h8.34M660.5 436.33v8.34M554.33 387.5h8.34M558.5 383.33v8.34M630.33 428.5h8.34M634.5 424.33v8.34M621.33 426.5h8.34M625.5 422.33v8.34M628.33 445.5h8.34M632.5 441.33v8.34M553.33 378.5h8.34M557.5 374.33v8.34M573.33 409.5h8.34M577.5 405.33v8.34M560.33 449.5h8.34M564.5 445.33v8.34M606.33 430.5h8.34M610.5 426.33v8.34M562.33 434.5h8.34M566.5 430.33v8.34M658.33 453.5h8.34M662.5 449.33v8.34M579.33 381.5h8.34M583.5 377.33v8.34M557.33 425.5h8.34M561.5 421.33v8.34M542.33 388.5h8.34M546.5 384.33v8.34M585.33 457.5h8.34M589.5 453.33v8.34M581.33 461.5h8.34M585.5 457.33v8.34M596.33 443.5h8.34M600.5 439.33v8.34M555.33 432.5h8.34M559.5 428.33v8.34M506.33 439.5h8.34M510.5 435.33v8.34M644.33 428.5h8.34M648.5 424.33v8.34M534.33 323.5h8.34M538.5 319.33v8.34M605.33 437.5h8.34M609.5 433.33v8.34M552.33 339.5h8.34M556.5 335.33v8.34M565.33 374.5h8.34M569.5 370.33v8.34M579.33 451.5h8.34M583.5 447.33v8.34M621.33 453.5h8.34M625.5 449.33v8.34M527.33 340.5h8.34M531.5 336.33v8.34M567.33 414.5h8.34M571.5 410.33v8.34M571.33 461.5h8.34M575.5 457.33v8.34M613.33 452.5h8.34M617.5 448.33v8.34M621.33 409.5h8.34M625.5 405.33v8.34M603.33 390.5h8.34M607.5 386.33v8.34M585.33 401.5h8.34M589.5 397.33v8.34M575.33 439.5h8.34M579.5 435.33v8.34M550.33 432.5h8.34M554.5 428.33v8.34M535.33 382.5h8.34M539.5 378.33v8.34M592.33 442.5h8.34M596.5 438.33v8.34M584.33 431.5h8.34M588.5 427.33v8.34M560.33 370.5h8.34M564.5 366.33v8.34M541.33 436.5h8.34M545.5 432.33v8.34M556.33 347.5h8.34M560.5 343.33v8.34M610.33 450.5h8.34M614.5 446.33v8.34M571.33 423.5h8.34M575.5 419.33v8.34M547.33 314.5h8.34M551.5 310.33v8.34M610.33 406.5h8.34M614.5 402.33v8.34M557.33 373.5h8.34M561.5 369.33v8.34M604.33 433.5h8.34M608.5 429.33v8.34M555.33 354.5h8.34M559.5 350.33v8.34M519.33 361.5h8.34M523.5 357.33v8.34M579.33 447.5h8.34M583.5 443.33v8.34M590.33 402.5h8.34M594.5 398.33v8.34M557.33 428.5h8.34M561.5 424.33v8.34M611.33 395.5h8.34M615.5 391.33v8.34M522.33 379.5h8.34M526.5 375.33v8.34M597.33 400.5h8.34M601.5 396.33v8.34M582.33 419.5h8.34M586.5 415.33v8.34M637.33 421.5h8.34M641.5 417.33v8.34M563.33 373.5h8.34M567.5 369.33v8.34M608.33 404.5h8.34M612.5 400.33v8.34M588.33 420.5h8.34M592.5 416.33v8.34M570.33 405.5h8.34M574.5 401.33v8.34M542.33 394.5h8.34M546.5 390.33v8.34M590.33 391.5h8.34M594.5 387.33v8.34M578.33 434.5h8.34M582.5 430.33v8.34M602.33 412.5h8.34M606.5 408.33v8.34M564.33 424.5h8.34M568.5 420.33v8.34M584.33 417.5h8.34M588.5 413.33v8.34M573.33 412.5h8.34M577.5 408.33v8.34M559.33 441.5h8.34M563.5 437.33v8.34M555.33 364.5h8.34M559.5 360.33v8.34M565.33 430.5h8.34M569.5 426.33v8.34M582.33 440.5h8.34M586.5 436.33v8.34M591.33 433.5h8.34M595.5 429.33v8.34M586.33 437.5h8.34M590.5 433.33v8.34M618.33 418.5h8.34M622.5 414.33v8.34M561.33 359.5h8.34M565.5 355.33v8.34M609.33 448.5h8.34M613.5 444.33v8.34M567.33 400.5h8.34M571.5 396.33v8.34M596.33 452.5h8.34M600.5 448.33v8.34M596.33 416.5h8.34M600.5 412.33v8.34M587.33 402.5h8.34M591.5 398.33v8.34M538.33 345.5h8.34M542.5 341.33v8.34M599.33 426.5h8.34M603.5 422.33v8.34M606.33 408.5h8.34M610.5 404.33v8.34M564.33 423.5h8.34M568.5 419.33v8.34M669.33 439.5h8.34M673.5 435.33v8.34M566.33 428.5h8.34M570.5 424.33v8.34M549.33 388.5h8.34M553.5 384.33v8.34M554.33 432.5h8.34M558.5 428.33v8.34M540.33 378.5h8.34M544.5 374.33v8.34M552.33 443.5h8.34M556.5 439.33v8.34M665.33 424.5h8.34M669.5 420.33v8.34M553.33 434.5h8.34M557.5 430.33v8.34M571.33 433.5h8.34M575.5 429.33v8.34M585.33 438.5h8.34M589.5 434.33v8.34M536.33 346.5h8.34M540.5 342.33v8.34M581.33 415.5h8.34M585.5 411.33v8.34M562.33 451.5h8.34M566.5 447.33v8.34M605.33 397.5h8.34M609.5 393.33v8.34M513.33 370.5h8.34M517.5 366.33v8.34M574.33 358.5h8.34M578.5 354.33v8.34M575.33 455.5h8.34M579.5 451.33v8.34M576.33 428.5h8.34M580.5 424.33v8.34M582.33 451.5h8.34M586.5 447.33v8.34M560.33 377.5h8.34M564.5 373.33v8.34M562.33 424.5h8.34M566.5 420.33v8.34M541.33 384.5h8.34M545.5 380.33v8.34M566.33 431.5h8.34M570.5 427.33v8.34M536.33 400.5h8.34M540.5 396.33v8.34M532.33 371.5h8.34M536.5 367.33v8.34M618.33 443.5h8.34M622.5 439.33v8.34M586.33 461.5h8.34M590.5 457.33v8.34M532.33 395.5h8.34M536.5 391.33v8.34M620.33 450.5h8.34M624.5 446.33v8.34M518.33 314.5h8.34M522.5 310.33v8.34M598.33 429.5h8.34M602.5 425.33v8.34M659.33 450.5h8.34M663.5 446.33v8.34M533.33 348.5h8.34M537.5 344.33v8.34M556.33 445.5h8.34M560.5 441.33v8.34M569.33 441.5h8.34M573.5 437.33v8.34M580.33 455.5h8.34M584.5 451.33v8.34M545.33 445.5h8.34M549.5 441.33v8.34M599.33 433.5h8.34M603.5 429.33v8.34M573.33 406.5h8.34M577.5 402.33v8.34M532.33 347.5h8.34M536.5 343.33v8.34M608.33 428.5h8.34M612.5 424.33v8.34M602.33 461.5h8.34M606.5 457.33v8.34M554.33 396.5h8.34M558.5 392.33v8.34M637.33 449.5h8.34M641.5 445.33v8.34M582.33 453.5h8.34M586.5 449.33v8.34M527.33 360.5h8.34M531.5 356.33v8.34M503.33 387.5h8.34M507.5 383.33v8.34M590.33 431.5h8.34M594.5 427.33v8.34M682.33 456.5h8.34M686.5 452.33v8.34M519.33 389.5h8.34M523.5 385.33v8.34M590.33 448.5h8.34M594.5 444.33v8.34M550.33 408.5h8.34M554.5 404.33v8.34M552.33 436.5h8.34M556.5 432.33v8.34M598.33 435.5h8.34M602.5 431.33v8.34M588.33 441.5h8.34M592.5 437.33v8.34M574.33 399.5h8.34M578.5 395.33v8.34M544.33 409.5h8.34M548.5 405.33v8.34M559.33 381.5h8.34M563.5 377.33v8.34M559.33 364.5h8.34M563.5 360.33v8.34M642.33 443.5h8.34M646.5 439.33v8.34M540.33 348.5h8.34M544.5 344.33v8.34M582.33 420.5h8.34M586.5 416.33v8.34M560.33 394.5h8.34M564.5 390.33v8.34M535.33 451.5h8.34M539.5 447.33v8.34M536.33 453.5h8.34M540.5 449.33v8.34M638.33 424.5h8.34M642.5 420.33v8.34M611.33 446.5h8.34M615.5 442.33v8.34M594.33 363.5h8.34M598.5 359.33v8.34M548.33 409.5h8.34M552.5 405.33v8.34M636.33 420.5h8.34M640.5 416.33v8.34M601.33 425.5h8.34M605.5 421.33v8.34M600.33 417.5h8.34M604.5 413.33v8.34M549.33 438.5h8.34M553.5 434.33v8.34M677.33 462.5h8.34M681.5 458.33v8.34M531.33 362.5h8.34M535.5 358.33v8.34M611.33 427.5h8.34M615.5 423.33v8.34M549.33 323.5h8.34M553.5 319.33v8.34M580.33 448.5h8.34M584.5 444.33v8.34M576.33 392.5h8.34M580.5 388.33v8.34M670.33 454.5h8.34M674.5 450.33v8.34M515.33 419.5h8.34M519.5 415.33v8.34M563.33 407.5h8.34M567.5 403.33v8.34M610.33 445.5h8.34M614.5 441.33v8.34M564.33 442.5h8.34M568.5 438.33v8.34M549.33 456.5h8.34M553.5 452.33v8.34M608.33 455.5h8.34M612.5 451.33v8.34M577.33 406.5h8.34M581.5 402.33v8.34M599.33 460.5h8.34M603.5 456.33v8.34M589.33 395.5h8.34M593.5 391.33v8.34M574.33 437.5h8.34M578.5 433.33v8.34M604.33 426.5h8.34M608.5 422.33v8.34M557.33 427.5h8.34M561.5 423.33v8.34M565.33 364.5h8.34M569.5 360.33v8.34M586.33 436.5h8.34M590.5 432.33v8.34M658.33 434.5h8.34M662.5 430.33v8.34M623.33 444.5h8.34M627.5 440.33v8.34M592.33 421.5h8.34M596.5 417.33v8.34M563.33 451.5h8.34M567.5 447.33v8.34M570.33 460.5h8.34M574.5 456.33v8.34M580.33 429.5h8.34M584.5 425.33v8.34M601.33 422.5h8.34M605.5 418.33v8.34M647.33 459.5h8.34M651.5 455.33v8.34M558.33 328.5h8.34M562.5 324.33v8.34M548.33 356.5h8.34M552.5 352.33v8.34M549.33 350.5h8.34M553.5 346.33v8.34M596.33 448.5h8.34M600.5 444.33v8.34M537.33 395.5h8.34M541.5 391.33v8.34M605.33 425.5h8.34M609.5 421.33v8.34M554.33 314.5h8.34M558.5 310.33v8.34M562.33 369.5h8.34M566.5 365.33v8.34M590.33 405.5h8.34M594.5 401.33v8.34M557.33 372.5h8.34M561.5 368.33v8.34M555.33 375.5h8.34M559.5 371.33v8.34M598.33 393.5h8.34M602.5 389.33v8.34M565.33 381.5h8.34M569.5 377.33v8.34M598.33 423.5h8.34M602.5 419.33v8.34M549.33 459.5h8.34M553.5 455.33v8.34M528.33 393.5h8.34M532.5 389.33v8.34M539.33 455.5h8.34M543.5 451.33v8.34M653.33 435.5h8.34M657.5 431.33v8.34M569.33 364.5h8.34M573.5 360.33v8.34M566.33 411.5h8.34M570.5 407.33v8.34M569.33 443.5h8.34M573.5 439.33v8.34M550.33 370.5h8.34M554.5 366.33v8.34M609.33 440.5h8.34M613.5 436.33v8.34M615.33 433.5h8.34M619.5 429.33v8.34M546.33 452.5h8.34M550.5 448.33v8.34M586.33 423.5h8.34M590.5 419.33v8.34M587.33 411.5h8.34M591.5 407.33v8.34M636.33 450.5h8.34M640.5 446.33v8.34M572.33 392.5h8.34M576.5 388.33v8.34M560.33 347.5h8.34M564.5 343.33v8.34M563.33 376.5h8.34M567.5 372.33v8.34M557.33 379.5h8.34M561.5 375.33v8.34M598.33 446.5h8.34M602.5 442.33v8.34M610.33 427.5h8.34M614.5 423.33v8.34M580.33 370.5h8.34M584.5 366.33v8.34M575.33 424.5h8.34M579.5 420.33v8.34M592.33 408.5h8.34M596.5 404.33v8.34M661.33 442.5h8.34M665.5 438.33v8.34M575.33 376.5h8.34M579.5 372.33v8.34M555.33 416.5h8.34M559.5 412.33v8.34M594.33 395.5h8.34M598.5 391.33v8.34M552.33 343.5h8.34M556.5 339.33v8.34M658.33 426.5h8.34M662.5 422.33v8.34M661.33 438.5h8.34M665.5 434.33v8.34M631.33 456.5h8.34M635.5 452.33v8.34M581.33 446.5h8.34M585.5 442.33v8.34M541.33 416.5h8.34M545.5 412.33v8.34M573.33 361.5h8.34M577.5 357.33v8.34M572.33 424.5h8.34M576.5 420.33v8.34M551.33 451.5h8.34M555.5 447.33v8.34M591.33 415.5h8.34M595.5 411.33v8.34M645.33 460.5h8.34M649.5 456.33v8.34M591.33 433.5h8.34M595.5 429.33v8.34M607.33 421.5h8.34M611.5 417.33v8.34M597.33 411.5h8.34M601.5 407.33v8.34M614.33 418.5h8.34M618.5 414.33v8.34M631.33 454.5h8.34M635.5 450.33v8.34M636.33 444.5h8.34M640.5 440.33v8.34M578.33 451.5h8.34M582.5 447.33v8.34M560.33 402.5h8.34M564.5 398.33v8.34M582.33 446.5h8.34M586.5 442.33v8.34M653.33 448.5h8.34M657.5 444.33v8.34M646.33 457.5h8.34M650.5 453.33v8.34M553.33 439.5h8.34M557.5 435.33v8.34M615.33 459.5h8.34M619.5 455.33v8.34M578.33 456.5h8.34M582.5 452.33v8.34M579.33 381.5h8.34M583.5 377.33v8.34M550.33 429.5h8.34M554.5 425.33v8.34M617.33 438.5h8.34M621.5 434.33v8.34M635.33 433.5h8.34M639.5 429.33v8.34M571.33 401.5h8.34M575.5 397.33v8.34M582.33 457.5h8.34M586.5 453.33v8.34M568.33 458.5h8.34M572.5 454.33v8.34M546.33 391.5h8.34M550.5 387.33v8.34M621.33 414.5h8.34M625.5 410.33v8.34M575.33 439.5h8.34M579.5 435.33v8.34M553.33 437.5h8.34M557.5 433.33v8.34M567.33 423.5h8.34M571.5 419.33v8.34M568.33 414.5h8.34M572.5 410.33v8.34M668.33 455.5h8.34M672.5 451.33v8.34M558.33 454.5h8.34M562.5 450.33v8.34M553.33 371.5h8.34M557.5 367.33v8.34M550.33 458.5h8.34M554.5 454.33v8.34M600.33 403.5h8.34M604.5 399.33v8.34M628.33 453.5h8.34M632.5 449.33v8.34M646.33 428.5h8.34M650.5 424.33v8.34M613.33 421.5h8.34M617.5 417.33v8.34M578.33 390.5h8.34M582.5 386.33v8.34M513.33 331.5h8.34M517.5 327.33v8.34M627.33 437.5h8.34M631.5 433.33v8.34M640.33 451.5h8.34M644.5 447.33v8.34M565.33 418.5h8.34M569.5 414.33v8.34M606.33 437.5h8.34M610.5 433.33v8.34M624.33 438.5h8.34M628.5 434.33v8.34M615.33 428.5h8.34M619.5 424.33v8.34M555.33 394.5h8.34M559.5 390.33v8.34M598.33 450.5h8.34M602.5 446.33v8.34M554.33 351.5h8.34M558.5 347.33v8.34M605.33 394.5h8.34M609.5 390.33v8.34M562.33 429.5h8.34M566.5 425.33v8.34M501.33 432.5h8.34M505.5 428.33v8.34M602.33 447.5h8.34M606.5 443.33v8.34M581.33 443.5h8.34M585.5 439.33v8.34M586.33 453.5h8.34M590.5 449.33v8.34M641.33 447.5h8.34M645.5 443.33v8.34M635.33 434.5h8.34M639.5 430.33v8.34M548.33 387.5h8.34M552.5 383.33v8.34M638.33 433.5h8.34M642.5 429.33v8.34M541.33 384.5h8.34M545.5 380.33v8.34M647.33 448.5h8.34M651.5 444.33v8.34M541.33 339.5h8.34M545.5 335.33v8.34M597.33 443.5h8.34M601.5 439.33v8.34M615.33 414.5h8.34M619.5 410.33v8.34M571.33 430.5h8.34M575.5 426.33v8.34M658.33 456.5h8.34M662.5 452.33v8.34M524.33 436.5h8.34M528.5 432.33v8.34M538.33 406.5h8.34M542.5 402.33v8.34M575.33 426.5h8.34M579.5 422.33v8.34M650.33 446.5h8.34M654.5 442.33v8.34M592.33 441.5h8.34M596.5 437.33v8.34M600.33 438.5h8.34M604.5 434.33v8.34M564.33 406.5h8.34M568.5 402.33v8.34M607.33 460.5h8.34M611.5 456.33v8.34M526.33 420.5h8.34M530.5 416.33v8.34M562.33 457.5h8.34M566.5 453.33v8.34M540.33 374.5h8.34M544.5 370.33v8.34M616.33 411.5h8.34M620.5 407.33v8.34M580.33 455.5h8.34M584.5 451.33v8.34M563.33 379.5h8.34M567.5 375.33v8.34M574.33 449.5h8.34M578.5 445.33v8.34M574.33 355.5h8.34M578.5 351.33v8.34M593.33 431.5h8.34M597.5 427.33v8.34M622.33 428.5h8.34M626.5 424.33v8.34M596.33 448.5h8.34M600.5 444.33v8.34M554.33 425.5h8.34M558.5 421.33v8.34M566.33 424.5h8.34M570.5 420.33v8.34M636.33 452.5h8.34M640.5 448.33v8.34M581.33 445.5h8.34M585.5 441.33v8.34M537.33 425.5h8.34M541.5 421.33v8.34M546.33 426.5h8.34M550.5 422.33v8.34M604.33 419.5h8.34M608.5 415.33v8.34M583.33 411.5h8.34M587.5 407.33v8.34M582.33 427.5h8.34M586.5 423.33v8.34M523.33 350.5h8.34M527.5 346.33v8.34M550.33 345.5h8.34M554.5 341.33v8.34M566.33 337.5h8.34M570.5 333.33v8.34M522.33 368.5h8.34M526.5 364.33v8.34M552.33 392.5h8.34M556.5 388.33v8.34M592.33 451.5h8.34M596.5 447.33v8.34M603.33 445.5h8.34M607.5 441.33v8.34M573.33 407.5h8.34M577.5 403.33v8.34M668.33 441.5h8.34M672.5 437.33v8.34M559.33 383.5h8.34M563.5 379.33v8.34M547.33 411.5h8.34M551.5 407.33v8.34M609.33 425.5h8.34M613.5 421.33v8.34M616.33 454.5h8.34M620.5 450.33v8.34M581.33 392.5h8.34M585.5 388.33v8.34M617.33 433.5h8.34M621.5 429.33v8.34M583.33 443.5h8.34M587.5 439.33v8.34M564.33 451.5h8.34M568.5 447.33v8.34M584.33 453.5h8.34M588.5 449.33v8.34M576.33 421.5h8.34M580.5 417.33v8.34M641.33 446.5h8.34M645.5 442.33v8.34M641.33 455.5h8.34M645.5 451.33v8.34M527.33 374.5h8.34M531.5 370.33v8.34M578.33 420.5h8.34M582.5 416.33v8.34M517.33 305.5h8.34M521.5 301.33v8.34M654.33 450.5h8.34M658.5 446.33v8.34M587.33 443.5h8.34M591.5 439.33v8.34M542.33 433.5h8.34M546.5 429.33v8.34M632.33 420.5h8.34M636.5 416.33v8.34M612.33 377.5h8.34M616.5 373.33v8.34M535.33 341.5h8.34M539.5 337.33v8.34M620.33 451.5h8.34M624.5 447.33v8.34M669.33 428.5h8.34M673.5 424.33v8.34M594.33 452.5h8.34M598.5 448.33v8.34M556.33 398.5h8.34M560.5 394.33v8.34M604.33 417.5h8.34M608.5 413.33v8.34M585.33 445.5h8.34M589.5 441.33v8.34M593.33 410.5h8.34M597.5 406.33v8.34M554.33 335.5h8.34M558.5 331.33v8.34M538.33 376.5h8.34M542.5 372.33v8.34M600.33 420.5h8.34M604.5 416.33v8.34M564.33 318.5h8.34M568.5 314.33v8.34M608.33 422.5h8.34M612.5 418.33v8.34M531.33 407.5h8.34M535.5 403.33v8.34M605.33 422.5h8.34M609.5 418.33v8.34M604.33 416.5h8.34M608.5 412.33v8.34M650.33 428.5h8.34M654.5 424.33v8.34M517.33 369.5h8.34M521.5 365.33v8.34M575.33 438.5h8.34M579.5 434.33v8.34M663.33 424.5h8.34M667.5 420.33v8.34M569.33 429.5h8.34M573.5 425.33v8.34M548.33 421.5h8.34M552.5 417.33v8.34M594.33 437.5h8.34M598.5 433.33v8.34M528.33 411.5h8.34M532.5 407.33v8.34M590.33 450.5h8.34M594.5 446.33v8.34M543.33 412.5h8.34M547.5 408.33v8.34M609.33 410.5h8.34M613.5 406.33v8.34M589.33 437.5h8.34M593.5 433.33v8.34M575.33 402.5h8.34M579.5 398.33v8.34M643.33 451.5h8.34M647.5 447.33v8.34M538.33 405.5h8.34M542.5 401.33v8.34M542.33 457.5h8.34M546.5 453.33v8.34M578.33 434.5h8.34M582.5 430.33v8.34M650.33 418.5h8.34M654.5 414.33v8.34M583.33 370.5h8.34M587.5 366.33v8.34M586.33 452.5h8.34M590.5 448.33v8.34M569.33 431.5h8.34M573.5 427.33v8.34M525.33 386.5h8.34M529.5 382.33v8.34M502.33 441.5h8.34M506.5 437.33v8.34M617.33 411.5h8.34M621.5 407.33v8.34M571.33 451.5h8.34M575.5 447.33v8.34M551.33 451.5h8.34M555.5 447.33v8.34M648.33 435.5h8.34M652.5 431.33v8.34M623.33 396.5h8.34M627.5 392.33v8.34M647.33 452.5h8.34M651.5 448.33v8.34M579.33 393.5h8.34M583.5 389.33v8.34M616.33 432.5h8.34M620.5 428.33v8.34M551.33 427.5h8.34M555.5 423.33v8.34M571.33 427.5h8.34M575.5 423.33v8.34M596.33 445.5h8.34M600.5 441.33v8.34M570.33 380.5h8.34M574.5 376.33v8.34M642.33 425.5h8.34M646.5 421.33v8.34M534.33 433.5h8.34M538.5 429.33v8.34M505.33 442.5h8.34M509.5 438.33v8.34M544.33 436.5h8.34M548.5 432.33v8.34M612.33 427.5h8.34M616.5 423.33v8.34M634.33 449.5h8.34M638.5 445.33v8.34M554.33 458.5h8.34M558.5 454.33v8.34M643.33 457.5h8.34M647.5 453.33v8.34M615.33 433.5h8.34M619.5 429.33v8.34M634.33 418.5h8.34M638.5 414.33v8.34M590.33 407.5h8.34M594.5 403.33v8.34M536.33 400.5h8.34M540.5 396.33v8.34M585.33 436.5h8.34M589.5 432.33v8.34M558.33 424.5h8.34M562.5 420.33v8.34M572.33 358.5h8.34M576.5 354.33v8.34M589.33 398.5h8.34M593.5 394.33v8.34M546.33 393.5h8.34M550.5 389.33v8.34M502.33 386.5h8.34M506.5 382.33v8.34M590.33 455.5h8.34M594.5 451.33v8.34M557.33 403.5h8.34M561.5 399.33v8.34M516.33 461.5h8.34M520.5 457.33v8.34M567.33 449.5h8.34M571.5 445.33v8.34M547.33 456.5h8.34M551.5 452.33v8.34M529.33 365.5h8.34M533.5 361.33v8.34M579.33 384.5h8.34M583.5 380.33v8.34M550.33 407.5h8.34M554.5 403.33v8.34M558.33 433.5h8.34M562.5 429.33v8.34M538.33 421.5h8.34M542.5 417.33v8.34M569.33 431.5h8.34M573.5 427.33v8.34M554.33 375.5h8.34M558.5 371.33v8.34M639.33 434.5h8.34M643.5 430.33v8.34M592.33 438.5h8.34M596.5 434.33v8.34M640.33 408.5h8.34M644.5 404.33v8.34M559.33 387.5h8.34M563.5 383.33v8.34M557.33 434.5h8.34M561.5 430.33v8.34M586.33 427.5h8.34M590.5 423.33v8.34M576.33 444.5h8.34M580.5 440.33v8.34M676.33 438.5h8.34M680.5 434.33v8.34M580.33 457.5h8.34M584.5 453.33v8.34M548.33 457.5h8.34M552.5 453.33v8.34M507.33 380.5h8.34M511.5 376.33v8.34M645.33 440.5h8.34M649.5 436.33v8.34M572.33 409.5h8.34M576.5 405.33v8.34M583.33 442.5h8.34M587.5 438.33v8.34M551.33 387.5h8.34M555.5 383.33v8.34M572.33 437.5h8.34M576.5 433.33v8.34M530.33 368.5h8.34M534.5 364.33v8.34M581.33 387.5h8.34M585.5 383.33v8.34M537.33 452.5h8.34M541.5 448.33v8.34M568.33 444.5h8.34M572.5 440.33v8.34M611.33 453.5h8.34M615.5 449.33v8.34M566.33 423.5h8.34M570.5 419.33v8.34M625.33 417.5h8.34M629.5 413.33v8.34M606.33 433.5h8.34M610.5 429.33v8.34M505.33 406.5h8.34M509.5 402.33v8.34M536.33 422.5h8.34M540.5 418.33v8.34M600.33 414.5h8.34M604.5 410.33v8.34M615.33 440.5h8.34M619.5 436.33v8.34M610.33 405.5h8.34M614.5 401.33v8.34M532.33 370.5h8.34M536.5 366.33v8.34M554.33 434.5h8.34M558.5 430.33v8.34M533.33 365.5h8.34M537.5 361.33v8.34M654.33 452.5h8.34M658.5 448.33v8.34M619.33 449.5h8.34M623.5 445.33v8.34M641.33 440.5h8.34M645.5 436.33v8.34M576.33 435.5h8.34M580.5 431.33v8.34M578.33 409.5h8.34M582.5 405.33v8.34M632.33 435.5h8.34M636.5 431.33v8.34M563.33 410.5h8.34M567.5 406.33v8.34M648.33 453.5h8.34M652.5 449.33v8.34M559.33 451.5h8.34M563.5 447.33v8.34M606.33 432.5h8.34M610.5 428.33v8.34M624.33 457.5h8.34M628.5 453.33v8.34M672.33 431.5h8.34M676.5 427.33v8.34M656.33 446.5h8.34M660.5 442.33v8.34M598.33 429.5h8.34M602.5 425.33v8.34M587.33 396.5h8.34M591.5 392.33v8.34M625.33 442.5h8.34M629.5 438.33v8.34M541.33 380.5h8.34M545.5 376.33v8.34M634.33 446.5h8.34M638.5 442.33v8.34M538.33 395.5h8.34M542.5 391.33v8.34M665.33 431.5h8.34M669.5 427.33v8.34M615.33 429.5h8.34M619.5 425.33v8.34M575.33 395.5h8.34M579.5 391.33v8.34M601.33 400.5h8.34M605.5 396.33v8.34M592.33 455.5h8.34M596.5 451.33v8.34M604.33 441.5h8.34M608.5 437.33v8.34M545.33 426.5h8.34M549.5 422.33v8.34M578.33 423.5h8.34M582.5 419.33v8.34M571.33 453.5h8.34M575.5 449.33v8.34M571.33 432.5h8.34M575.5 428.33v8.34M568.33 416.5h8.34M572.5 412.33v8.34M547.33 392.5h8.34M551.5 388.33v8.34M551.33 374.5h8.34M555.5 370.33v8.34M560.33 428.5h8.34M564.5 424.33v8.34M629.33 439.5h8.34M633.5 435.33v8.34M577.33 440.5h8.34M581.5 436.33v8.34M630.33 420.5h8.34M634.5 416.33v8.34M607.33 412.5h8.34M611.5 408.33v8.34M522.33 322.5h8.34M526.5 318.33v8.34M546.33 396.5h8.34M550.5 392.33v8.34M692.33 452.5h8.34M696.5 448.33v8.34M537.33 369.5h8.34M541.5 365.33v8.34M548.33 345.5h8.34M552.5 341.33v8.34M547.33 442.5h8.34M551.5 438.33v8.34M575.33 445.5h8.34M579.5 441.33v8.34M553.33 454.5h8.34M557.5 450.33v8.34M623.33 445.5h8.34M627.5 441.33v8.34M567.33 435.5h8.34M571.5 431.33v8.34M622.33 449.5h8.34M626.5 445.33v8.34M588.33 414.5h8.34M592.5 410.33v8.34M541.33 355.5h8.34M545.5 351.33v8.34M582.33 369.5h8.34M586.5 365.33v8.34M539.33 398.5h8.34M543.5 394.33v8.34M645.33 458.5h8.34M649.5 454.33v8.34M614.33 431.5h8.34M618.5 427.33v8.34M640.33 440.5h8.34M644.5 436.33v8.34M571.33 355.5h8.34M575.5 351.33v8.34M634.33 453.5h8.34M638.5 449.33v8.34M667.33 457.5h8.34M671.5 453.33v8.34M628.33 435.5h8.34M632.5 431.33v8.34M552.33 387.5h8.34M556.5 383.33v8.34M511.33 405.5h8.34M515.5 401.33v8.34M582.33 328.5h8.34M586.5 324.33v8.34M536.33 449.5h8.34M540.5 445.33v8.34M619.33 415.5h8.34M623.5 411.33v8.34M570.33 384.5h8.34M574.5 380.33v8.34M622.33 454.5h8.34M626.5 450.33v8.34M528.33 348.5h8.34M532.5 344.33v8.34M582.33 409.5h8.34M586.5 405.33v8.34M582.33 433.5h8.34M586.5 429.33v8.34M676.33 456.5h8.34M680.5 452.33v8.34M608.33 432.5h8.34M612.5 428.33v8.34M583.33 417.5h8.34M587.5 413.33v8.34M636.33 448.5h8.34M640.5 444.33v8.34M605.33 450.5h8.34M609.5 446.33v8.34M576.33 411.5h8.34M580.5 407.33v8.34M544.33 362.5h8.34M548.5 358.33v8.34M585.33 411.5h8.34M589.5 407.33v8.34M555.33 316.5h8.34M559.5 312.33v8.34M602.33 410.5h8.34M606.5 406.33v8.34M618.33 406.5h8.34M622.5 402.33v8.34M612.33 446.5h8.34M616.5 442.33v8.34M615.33 428.5h8.34M619.5 424.33v8.34M601.33 378.5h8.34M605.5 374.33v8.34M546.33 364.5h8.34M550.5 360.33v8.34M604.33 426.5h8.34M608.5 422.33v8.34M621.33 451.5h8.34M625.5 447.33v8.34M616.33 433.5h8.34M620.5 429.33v8.34M614.33 434.5h8.34M618.5 430.33v8.34M549.33 395.5h8.34M553.5 391.33v8.34M574.33 453.5h8.34M578.5 449.33v8.34M567.33 451.5h8.34M571.5 447.33v8.34M582.33 440.5h8.34M586.5 436.33v8.34M548.33 412.5h8.34M552.5 408.33v8.34M619.33 414.5h8.34M623.5 410.33v8.34M580.33 414.5h8.34M584.5 410.33v8.34M587.33 396.5h8.34M591.5 392.33v8.34M543.33 425.5h8.34M547.5 421.33v8.34M632.33 426.5h8.34M636.5 422.33v8.34M654.33 446.5h8.34M658.5 442.33v8.34M587.33 406.5h8.34M591.5 402.33v8.34M569.33 449.5h8.34M573.5 445.33v8.34M645.33 428.5h8.34M649.5 424.33v8.34M656.33 447.5h8.34M660.5 443.33v8.34M562.33 455.5h8.34M566.5 451.33v8.34M658.33 448.5h8.34M662.5 444.33v8.34M631.33 441.5h8.34M635.5 437.33v8.34M611.33 456.5h8.34M615.5 452.33v8.34M619.33 436.5h8.34M623.5 432.33v8.34M574.33 449.5h8.34M578.5 445.33v8.34M614.33 427.5h8.34M618.5 423.33v8.34M590.33 408.5h8.34M594.5 404.33v8.34M625.33 429.5h8.34M629.5 425.33v8.34M570.33 431.5h8.34M574.5 427.33v8.34M579.33 424.5h8.34M583.5 420.33v8.34M597.33 392.5h8.34M601.5 388.33v8.34M556.33 436.5h8.34M560.5 432.33v8.34M613.33 443.5h8.34M617.5 439.33v8.34M578.33 432.5h8.34M582.5 428.33v8.34M537.33 351.5h8.34M541.5 347.33v8.34M569.33 439.5h8.34M573.5 435.33v8.34M564.33 443.5h8.34M568.5 439.33v8.34M564.33 413.5h8.34M568.5 409.33v8.34M555.33 364.5h8.34M559.5 360.33v8.34M560.33 320.5h8.34M564.5 316.33v8.34M562.33 458.5h8.34M566.5 454.33v8.34M664.33 450.5h8.34M668.5 446.33v8.34M583.33 437.5h8.34M587.5 433.33v8.34M597.33 414.5h8.34M601.5 410.33v8.34M585.33 456.5h8.34M589.5 452.33v8.34M604.33 424.5h8.34M608.5 420.33v8.34M585.33 449.5h8.34M589.5 445.33v8.34M633.33 408.5h8.34M637.5 404.33v8.34M616.33 452.5h8.34M620.5 448.33v8.34M631.33 436.5h8.34M635.5 432.33v8.34M559.33 455.5h8.34M563.5 451.33v8.34M610.33 432.5h8.34M614.5 428.33v8.34M603.33 414.5h8.34M607.5 410.33v8.34M520.33 337.5h8.34M524.5 333.33v8.34M572.33 438.5h8.34M576.5 434.33v8.34M566.33 425.5h8.34M570.5 421.33v8.34M607.33 448.5h8.34M611.5 444.33v8.34M589.33 388.5h8.34M593.5 384.33v8.34M579.33 398.5h8.34M583.5 394.33v8.34M598.33 392.5h8.34M602.5 388.33v8.34M545.33 317.5h8.34M549.5 313.33v8.34M547.33 410.5h8.34M551.5 406.33v8.34M585.33 452.5h8.34M589.5 448.33v8.34M581.33 359.5h8.34M585.5 355.33v8.34M503.33 431.5h8.34M507.5 427.33v8.34M580.33 417.5h8.34M584.5 413.33v8.34M597.33 412.5h8.34M601.5 408.33v8.34M503.33 451.5h8.34M507.5 447.33v8.34M523.33 327.5h8.34M527.5 323.33v8.34M620.33 454.5h8.34M624.5 450.33v8.34M542.33 444.5h8.34M546.5 440.33v8.34M652.33 452.5h8.34M656.5 448.33v8.34M573.33 431.5h8.34M577.5 427.33v8.34M554.33 395.5h8.34M558.5 391.33v8.34M532.33 437.5h8.34M536.5 433.33v8.34M539.33 445.5h8.34M543.5 441.33v8.34M639.33 452.5h8.34M643.5 448.33v8.34M623.33 445.5h8.34M627.5 441.33v8.34M685.33 457.5h8.34M689.5 453.33v8.34M557.33 433.5h8.34M561.5 429.33v8.34M606.33 453.5h8.34M610.5 449.33v8.34M626.33 448.5h8.34M630.5 444.33v8.34M541.33 382.5h8.34M545.5 378.33v8.34M555.33 438.5h8.34M559.5 434.33v8.34M507.33 400.5h8.34M511.5 396.33v8.34M599.33 433.5h8.34M603.5 429.33v8.34M583.33 433.5h8.34M587.5 429.33v8.34M549.33 436.5h8.34M553.5 432.33v8.34M673.33 422.5h8.34M677.5 418.33v8.34M693.33 438.5h8.34M697.5 434.33v8.34M553.33 444.5h8.34M557.5 440.33v8.34M608.33 417.5h8.34M612.5 413.33v8.34M621.33 427.5h8.34M625.5 423.33v8.34M526.33 398.5h8.34M530.5 394.33v8.34M564.33 426.5h8.34M568.5 422.33v8.34M557.33 441.5h8.34M561.5 437.33v8.34M545.33 419.5h8.34M549.5 415.33v8.34M645.33 455.5h8.34M649.5 451.33v8.34M597.33 387.5h8.34M601.5 383.33v8.34M598.33 394.5h8.34M602.5 390.33v8.34M639.33 427.5h8.34M643.5 423.33v8.34M617.33 413.5h8.34M621.5 409.33v8.34M571.33 431.5h8.34M575.5 427.33v8.34M527.33 343.5h8.34M531.5 339.33v8.34M639.33 449.5h8.34M643.5 445.33v8.34M566.33 431.5h8.34M570.5 427.33v8.34M602.33 453.5h8.34M606.5 449.33v8.34M608.33 385.5h8.34M612.5 381.33v8.34M570.33 415.5h8.34M574.5 411.33v8.34M641.33 415.5h8.34M645.5 411.33v8.34M629.33 408.5h8.34M633.5 404.33v8.34M529.33 368.5h8.34M533.5 364.33v8.34M651.33 449.5h8.34M655.5 445.33v8.34M570.33 436.5h8.34M574.5 432.33v8.34M575.33 409.5h8.34M579.5 405.33v8.34M668.33 453.5h8.34M672.5 449.33v8.34M656.33 434.5h8.34M660.5 430.33v8.34M568.33 356.5h8.34M572.5 352.33v8.34M614.33 381.5h8.34M618.5 377.33v8.34M563.33 375.5h8.34M567.5 371.33v8.34M611.33 456.5h8.34M615.5 452.33v8.34M542.33 375.5h8.34M546.5 371.33v8.34M560.33 417.5h8.34M564.5 413.33v8.34M530.33 387.5h8.34M534.5 383.33v8.34M586.33 437.5h8.34M590.5 433.33v8.34M591.33 453.5h8.34M595.5 449.33v8.34M608.33 454.5h8.34M612.5 450.33v8.34M583.33 455.5h8.34M587.5 451.33v8.34M631.33 451.5h8.34M635.5 447.33v8.34M586.33 406.5h8.34M590.5 402.33v8.34M575.33 387.5h8.34M579.5 383.33v8.34M553.33 408.5h8.34M557.5 404.33v8.34M614.33 440.5h8.34M618.5 436.33v8.34M554.33 394.5h8.34M558.5 390.33v8.34M600.33 440.5h8.34M604.5 436.33v8.34M607.33 447.5h8.34M611.5 443.33v8.34M615.33 420.5h8.34M619.5 416.33v8.34M569.33 357.5h8.34M573.5 353.33v8.34M608.33 410.5h8.34M612.5 406.33v8.34M595.33 379.5h8.34M599.5 375.33v8.34M628.33 425.5h8.34M632.5 421.33v8.34M547.33 441.5h8.34M551.5 437.33v8.34M573.33 424.5h8.34M577.5 420.33v8.34M621.33 451.5h8.34M625.5 447.33v8.34M543.33 360.5h8.34M547.5 356.33v8.34M547.33 414.5h8.34M551.5 410.33v8.34M593.33 426.5h8.34M597.5 422.33v8.34M601.33 412.5h8.34M605.5 408.33v8.34M572.33 322.5h8.34M576.5 318.33v8.34M610.33 427.5h8.34M614.5 423.33v8.34M576.33 447.5h8.34M580.5 443.33v8.34M568.33 410.5h8.34M572.5 406.33v8.34M630.33 457.5h8.34M634.5 453.33v8.34M686.33 455.5h8.34M690.5 451.33v8.34M669.33 444.5h8.34M673.5 440.33v8.34M551.33 317.5h8.34M555.5 313.33v8.34M543.33 375.5h8.34M547.5 371.33v8.34M596.33 414.5h8.34M600.5 410.33v8.34M633.33 449.5h8.34M637.5 445.33v8.34M559.33 390.5h8.34M563.5 386.33v8.34M618.33 412.5h8.34M622.5 408.33v8.34M585.33 433.5h8.34M589.5 429.33v8.34M575.33 408.5h8.34M579.5 404.33v8.34M596.33 400.5h8.34M600.5 396.33v8.34M611.33 447.5h8.34M615.5 443.33v8.34M619.33 453.5h8.34M623.5 449.33v8.34M567.33 455.5h8.34M571.5 451.33v8.34M600.33 428.5h8.34M604.5 424.33v8.34M584.33 437.5h8.34M588.5 433.33v8.34M643.33 436.5h8.34M647.5 432.33v8.34M551.33 441.5h8.34M555.5 437.33v8.34M651.33 438.5h8.34M655.5 434.33v8.34M576.33 446.5h8.34M580.5 442.33v8.34M582.33 391.5h8.34M586.5 387.33v8.34M600.33 436.5h8.34M604.5 432.33v8.34M518.33 400.5h8.34M522.5 396.33v8.34M609.33 441.5h8.34M613.5 437.33v8.34M546.33 349.5h8.34M550.5 345.33v8.34M566.33 339.5h8.34M570.5 335.33v8.34M597.33 402.5h8.34M601.5 398.33v8.34M562.33 408.5h8.34M566.5 404.33v8.34M561.33 375.5h8.34M565.5 371.33v8.34M572.33 451.5h8.34M576.5 447.33v8.34M654.33 442.5h8.34M658.5 438.33v8.34M601.33 430.5h8.34M605.5 426.33v8.34M582.33 395.5h8.34M586.5 391.33v8.34M605.33 436.5h8.34M609.5 432.33v8.34M649.33 434.5h8.34M653.5 430.33v8.34M617.33 412.5h8.34M621.5 408.33v8.34M610.33 457.5h8.34M614.5 453.33v8.34M552.33 419.5h8.34M556.5 415.33v8.34M537.33 455.5h8.34M541.5 451.33v8.34M508.33 454.5h8.34M512.5 450.33v8.34M546.33 454.5h8.34M550.5 450.33v8.34M544.33 454.5h8.34M548.5 450.33v8.34M483.33 453.5h8.34M487.5 449.33v8.34M457.33 452.5h8.34M461.5 448.33v8.34M531.33 456.5h8.34M535.5 452.33v8.34M481.33 454.5h8.34M485.5 450.33v8.34M492.33 454.5h8.34M496.5 450.33v8.34M471.33 457.5h8.34M475.5 453.33v8.34M506.33 453.5h8.34M510.5 449.33v8.34M531.33 454.5h8.34M535.5 450.33v8.34M476.33 454.5h8.34M480.5 450.33v8.34M529.33 453.5h8.34M533.5 449.33v8.34M498.33 452.5h8.34M502.5 448.33v8.34M478.33 455.5h8.34M482.5 451.33v8.34M448.33 456.5h8.34M452.5 452.33v8.34M463.33 454.5h8.34M467.5 450.33v8.34M526.33 454.5h8.34M530.5 450.33v8.34M529.33 452.5h8.34M533.5 448.33v8.34M462.33 454.5h8.34M466.5 450.33v8.34M465.33 454.5h8.34M469.5 450.33v8.34M542.33 454.5h8.34M546.5 450.33v8.34M463.33 455.5h8.34M467.5 451.33v8.34M550.33 455.5h8.34M554.5 451.33v8.34M548.33 454.5h8.34M552.5 450.33v8.34M514.33 455.5h8.34M518.5 451.33v8.34M528.33 454.5h8.34M532.5 450.33v8.34M531.33 454.5h8.34M535.5 450.33v8.34M555.33 453.5h8.34M559.5 449.33v8.34M552.33 452.5h8.34M556.5 448.33v8.34M520.33 456.5h8.34M524.5 452.33v8.34M474.33 454.5h8.34M478.5 450.33v8.34M555.33 453.5h8.34M559.5 449.33v8.34M516.33 455.5h8.34M520.5 451.33v8.34M453.33 454.5h8.34M457.5 450.33v8.34M488.33 454.5h8.34M492.5 450.33v8.34M444.33 454.5h8.34M448.5 450.33v8.34M501.33 454.5h8.34M505.5 450.33v8.34M545.33 455.5h8.34M549.5 451.33v8.34M550.33 456.5h8.34M554.5 452.33v8.34M469.33 454.5h8.34M473.5 450.33v8.34M494.33 457.5h8.34M498.5 453.33v8.34M506.33 454.5h8.34M510.5 450.33v8.34M531.33 454.5h8.34M535.5 450.33v8.34M444.33 454.5h8.34M448.5 450.33v8.34M519.33 453.5h8.34M523.5 449.33v8.34M491.33 455.5h8.34M495.5 451.33v8.34M549.33 453.5h8.34M553.5 449.33v8.34M547.33 454.5h8.34M551.5 450.33v8.34M540.33 454.5h8.34M544.5 450.33v8.34M501.33 454.5h8.34M505.5 450.33v8.34M453.33 454.5h8.34M457.5 450.33v8.34M542.33 452.5h8.34M546.5 448.33v8.34M469.33 455.5h8.34M473.5 451.33v8.34M441.33 455.5h8.34M445.5 451.33v8.34M545.33 455.5h8.34M549.5 451.33v8.34M514.33 454.5h8.34M518.5 450.33v8.34M454.33 454.5h8.34M458.5 450.33v8.34M476.33 453.5h8.34M480.5 449.33v8.34M461.33 455.5h8.34M465.5 451.33v8.34M488.33 454.5h8.34M492.5 450.33v8.34M474.33 453.5h8.34M478.5 449.33v8.34M464.33 454.5h8.34M468.5 450.33v8.34M444.33 454.5h8.34M448.5 450.33v8.34M467.33 454.5h8.34M471.5 450.33v8.34M468.33 452.5h8.34M472.5 448.33v8.34M453.33 453.5h8.34M457.5 449.33v8.34M490.33 456.5h8.34M494.5 452.33v8.34M484.33 453.5h8.34M488.5 449.33v8.34M513.33 451.5h8.34M517.5 447.33v8.34M441.33 455.5h8.34M445.5 451.33v8.34M552.33 454.5h8.34M556.5 450.33v8.34M468.33 456.5h8.34M472.5 452.33v8.34M452.33 454.5h8.34M456.5 450.33v8.34M554.33 455.5h8.34M558.5 451.33v8.34M510.33 454.5h8.34M514.5 450.33v8.34M485.33 453.5h8.34M489.5 449.33v8.34M530.33 453.5h8.34M534.5 449.33v8.34M484.33 453.5h8.34M488.5 449.33v8.34M452.33 453.5h8.34M456.5 449.33v8.34M531.33 453.5h8.34M535.5 449.33v8.34M529.33 453.5h8.34M533.5 449.33v8.34M483.33 455.5h8.34M487.5 451.33v8.34M533.33 453.5h8.34M537.5 449.33v8.34M551.33 454.5h8.34M555.5 450.33v8.34M528.33 456.5h8.34M532.5 452.33v8.34M479.33 452.5h8.34M483.5 448.33v8.34M529.33 452.5h8.34M533.5 448.33v8.34M446.33 455.5h8.34M450.5 451.33v8.34M529.33 453.5h8.34M533.5 449.33v8.34M503.33 454.5h8.34M507.5 450.33v8.34M502.33 452.5h8.34M506.5 448.33v8.34M514.33 452.5h8.34M518.5 448.33v8.34M549.33 454.5h8.34M553.5 450.33v8.34M545.33 456.5h8.34M549.5 452.33v8.34M468.33 454.5h8.34M472.5 450.33v8.34M462.33 454.5h8.34M466.5 450.33v8.34M442.33 454.5h8.34M446.5 450.33v8.34M520.33 455.5h8.34M524.5 451.33v8.34M480.33 456.5h8.34M484.5 452.33v8.34M478.33 455.5h8.34M482.5 451.33v8.34M444.33 455.5h8.34M448.5 451.33v8.34M547.33 453.5h8.34M551.5 449.33v8.34M455.33 456.5h8.34M459.5 452.33v8.34M505.33 454.5h8.34M509.5 450.33v8.34M469.33 454.5h8.34M473.5 450.33v8.34M446.33 453.5h8.34M450.5 449.33v8.34M476.33 454.5h8.34M480.5 450.33v8.34M503.33 453.5h8.34M507.5 449.33v8.34M483.33 455.5h8.34M487.5 451.33v8.34M478.33 453.5h8.34M482.5 449.33v8.34M486.33 454.5h8.34M490.5 450.33v8.34M441.33 453.5h8.34M445.5 449.33v8.34M526.33 455.5h8.34M530.5 451.33v8.34M524.33 454.5h8.34M528.5 450.33v8.34M467.33 454.5h8.34M471.5 450.33v8.34M510.33 455.5h8.34M514.5 451.33v8.34M483.33 453.5h8.34M487.5 449.33v8.34M446.33 454.5h8.34M450.5 450.33v8.34M456.33 454.5h8.34M460.5 450.33v8.34M457.33 454.5h8.34M461.5 450.33v8.34M541.33 453.5h8.34M545.5 449.33v8.34M497.33 454.5h8.34M501.5 450.33v8.34M496.33 455.5h8.34M500.5 451.33v8.34M461.33 453.5h8.34M465.5 449.33v8.34M454.33 454.5h8.34M458.5 450.33v8.34M479.33 456.5h8.34M483.5 452.33v8.34M458.33 454.5h8.34M462.5 450.33v8.34M481.33 453.5h8.34M485.5 449.33v8.34M535.33 455.5h8.34M539.5 451.33v8.34M530.33 452.5h8.34M534.5 448.33v8.34M524.33 454.5h8.34M528.5 450.33v8.34M469.33 455.5h8.34M473.5 451.33v8.34M486.33 454.5h8.34M490.5 450.33v8.34M544.33 454.5h8.34M548.5 450.33v8.34M532.33 453.5h8.34M536.5 449.33v8.34M523.33 455.5h8.34M527.5 451.33v8.34M464.33 454.5h8.34M468.5 450.33v8.34M545.33 452.5h8.34M549.5 448.33v8.34M555.33 453.5h8.34M559.5 449.33v8.34M528.33 455.5h8.34M532.5 451.33v8.34M451.33 454.5h8.34M455.5 450.33v8.34M486.33 453.5h8.34M490.5 449.33v8.34M545.33 453.5h8.34M549.5 449.33v8.34M458.33 453.5h8.34M462.5 449.33v8.34M457.33 454.5h8.34M461.5 450.33v8.34M534.33 452.5h8.34M538.5 448.33v8.34M462.33 453.5h8.34M466.5 449.33v8.34M551.33 453.5h8.34M555.5 449.33v8.34M527.33 454.5h8.34M531.5 450.33v8.34M472.33 453.5h8.34M476.5 449.33v8.34M483.33 453.5h8.34M487.5 449.33v8.34M498.33 454.5h8.34M502.5 450.33v8.34M496.33 454.5h8.34M500.5 450.33v8.34M528.33 454.5h8.34M532.5 450.33v8.34M492.33 454.5h8.34M496.5 450.33v8.34M489.33 454.5h8.34M493.5 450.33v8.34M526.33 455.5h8.34M530.5 451.33v8.34M461.33 453.5h8.34M465.5 449.33v8.34M531.33 453.5h8.34M535.5 449.33v8.34M501.33 453.5h8.34M505.5 449.33v8.34M481.33 455.5h8.34M485.5 451.33v8.34M500.33 456.5h8.34M504.5 452.33v8.34M533.33 453.5h8.34M537.5 449.33v8.34M488.33 453.5h8.34M492.5 449.33v8.34M548.33 453.5h8.34M552.5 449.33v8.34M450.33 454.5h8.34M454.5 450.33v8.34M483.33 454.5h8.34M487.5 450.33v8.34M526.33 454.5h8.34M530.5 450.33v8.34M527.33 453.5h8.34M531.5 449.33v8.34M510.33 454.5h8.34M514.5 450.33v8.34M541.33 455.5h8.34M545.5 451.33v8.34M443.33 454.5h8.34M447.5 450.33v8.34M552.33 454.5h8.34M556.5 450.33v8.34M546.33 453.5h8.34M550.5 449.33v8.34M468.33 454.5h8.34M472.5 450.33v8.34M545.33 453.5h8.34M549.5 449.33v8.34M537.33 454.5h8.34M541.5 450.33v8.34M466.33 454.5h8.34M470.5 450.33v8.34M479.33 456.5h8.34M483.5 452.33v8.34M540.33 453.5h8.34M544.5 449.33v8.34M522.33 453.5h8.34M526.5 449.33v8.34M448.33 454.5h8.34M452.5 450.33v8.34M469.33 455.5h8.34M473.5 451.33v8.34M550.33 453.5h8.34M554.5 449.33v8.34M508.33 453.5h8.34M512.5 449.33v8.34M489.33 453.5h8.34M493.5 449.33v8.34M450.33 452.5h8.34M454.5 448.33v8.34M495.33 455.5h8.34M499.5 451.33v8.34M527.33 454.5h8.34M531.5 450.33v8.34M502.33 455.5h8.34M506.5 451.33v8.34M441.33 453.5h8.34M445.5 449.33v8.34M472.33 454.5h8.34M476.5 450.33v8.34M486.33 456.5h8.34M490.5 452.33v8.34M518.33 454.5h8.34M522.5 450.33v8.34M521.33 455.5h8.34M525.5 451.33v8.34M454.33 453.5h8.34M458.5 449.33v8.34M484.33 453.5h8.34M488.5 449.33v8.34M537.33 453.5h8.34M541.5 449.33v8.34M536.33 454.5h8.34M540.5 450.33v8.34M451.33 452.5h8.34M455.5 448.33v8.34M503.33 455.5h8.34M507.5 451.33v8.34M463.33 455.5h8.34M467.5 451.33v8.34M459.33 453.5h8.34M463.5 449.33v8.34M482.33 455.5h8.34M486.5 451.33v8.34M528.33 455.5h8.34M532.5 451.33v8.34M486.33 455.5h8.34M490.5 451.33v8.34M456.33 454.5h8.34M460.5 450.33v8.34M496.33 455.5h8.34M500.5 451.33v8.34M544.33 454.5h8.34M548.5 450.33v8.34M462.33 454.5h8.34M466.5 450.33v8.34M551.33 453.5h8.34M555.5 449.33v8.34M457.33 453.5h8.34M461.5 449.33v8.34M502.33 454.5h8.34M506.5 450.33v8.34M544.33 454.5h8.34M548.5 450.33v8.34M468.33 453.5h8.34M472.5 449.33v8.34M500.33 454.5h8.34M504.5 450.33v8.34M479.33 455.5h8.34M483.5 451.33v8.34M541.33 456.5h8.34M545.5 452.33v8.34M506.33 453.5h8.34M510.5 449.33v8.34M470.33 454.5h8.34M474.5 450.33v8.34M478.33 454.5h8.34M482.5 450.33v8.34M544.33 455.5h8.34M548.5 451.33v8.34M486.33 453.5h8.34M490.5 449.33v8.34M445.33 455.5h8.34M449.5 451.33v8.34M501.33 454.5h8.34M505.5 450.33v8.34M473.33 455.5h8.34M477.5 451.33v8.34M484.33 456.5h8.34M488.5 452.33v8.34M445.33 453.5h8.34M449.5 449.33v8.34M641.33 455.5h8.34M645.5 451.33v8.34M606.33 455.5h8.34M610.5 451.33v8.34M634.33 454.5h8.34M638.5 450.33v8.34M673.33 455.5h8.34M677.5 451.33v8.34M623.33 455.5h8.34M627.5 451.33v8.34M566.33 453.5h8.34M570.5 449.33v8.34M561.33 456.5h8.34M565.5 452.33v8.34M614.33 452.5h8.34M618.5 448.33v8.34M712.33 453.5h8.34M716.5 449.33v8.34M685.33 452.5h8.34M689.5 448.33v8.34M677.33 455.5h8.34M681.5 451.33v8.34M696.33 456.5h8.34M700.5 452.33v8.34M606.33 452.5h8.34M610.5 448.33v8.34M578.33 455.5h8.34M582.5 451.33v8.34M590.33 454.5h8.34M594.5 450.33v8.34M699.33 457.5h8.34M703.5 453.33v8.34M574.33 452.5h8.34M578.5 448.33v8.34M695.33 454.5h8.34M699.5 450.33v8.34M667.33 458.5h8.34M671.5 454.33v8.34M673.33 453.5h8.34M677.5 449.33v8.34M630.33 453.5h8.34M634.5 449.33v8.34M698.33 457.5h8.34M702.5 453.33v8.34M607.33 454.5h8.34M611.5 450.33v8.34M658.33 453.5h8.34M662.5 449.33v8.34M627.33 456.5h8.34M631.5 452.33v8.34M660.33 453.5h8.34M664.5 449.33v8.34M580.33 453.5h8.34M584.5 449.33v8.34M616.33 455.5h8.34M620.5 451.33v8.34M556.33 456.5h8.34M560.5 452.33v8.34M605.33 455.5h8.34M609.5 451.33v8.34M580.33 456.5h8.34M584.5 452.33v8.34M697.33 453.5h8.34M701.5 449.33v8.34M578.33 456.5h8.34M582.5 452.33v8.34M668.33 451.5h8.34M672.5 447.33v8.34M594.33 454.5h8.34M598.5 450.33v8.34M671.33 452.5h8.34M675.5 448.33v8.34M633.33 458.5h8.34M637.5 454.33v8.34M603.33 457.5h8.34M607.5 453.33v8.34M603.33 457.5h8.34M607.5 453.33v8.34M710.33 453.5h8.34M714.5 449.33v8.34M709.33 459.5h8.34M713.5 455.33v8.34M597.33 454.5h8.34M601.5 450.33v8.34M691.33 452.5h8.34M695.5 448.33v8.34M585.33 452.5h8.34M589.5 448.33v8.34M590.33 452.5h8.34M594.5 448.33v8.34M614.33 457.5h8.34M618.5 453.33v8.34M582.33 450.5h8.34M586.5 446.33v8.34M647.33 454.5h8.34M651.5 450.33v8.34M571.33 451.5h8.34M575.5 447.33v8.34M574.33 452.5h8.34M578.5 448.33v8.34M648.33 453.5h8.34M652.5 449.33v8.34M579.33 456.5h8.34M583.5 452.33v8.34M607.33 453.5h8.34M611.5 449.33v8.34M646.33 453.5h8.34M650.5 449.33v8.34M670.33 459.5h8.34M674.5 455.33v8.34M600.33 451.5h8.34M604.5 447.33v8.34M656.33 457.5h8.34M660.5 453.33v8.34M628.33 454.5h8.34M632.5 450.33v8.34M569.33 451.5h8.34M573.5 447.33v8.34M559.33 453.5h8.34M563.5 449.33v8.34M574.33 453.5h8.34M578.5 449.33v8.34M672.33 453.5h8.34M676.5 449.33v8.34M663.33 453.5h8.34M667.5 449.33v8.34M675.33 453.5h8.34M679.5 449.33v8.34M657.33 456.5h8.34M661.5 452.33v8.34M624.33 454.5h8.34M628.5 450.33v8.34M620.33 455.5h8.34M624.5 451.33v8.34M577.33 454.5h8.34M581.5 450.33v8.34M572.33 456.5h8.34M576.5 452.33v8.34M607.33 449.5h8.34M611.5 445.33v8.34M706.33 459.5h8.34M710.5 455.33v8.34M566.33 454.5h8.34M570.5 450.33v8.34M560.33 453.5h8.34M564.5 449.33v8.34M674.33 458.5h8.34M678.5 454.33v8.34M631.33 451.5h8.34M635.5 447.33v8.34M618.33 455.5h8.34M622.5 451.33v8.34M576.33 453.5h8.34M580.5 449.33v8.34M715.33 455.5h8.34M719.5 451.33v8.34M613.33 452.5h8.34M617.5 448.33v8.34M668.33 456.5h8.34M672.5 452.33v8.34M591.33 454.5h8.34M595.5 450.33v8.34M625.33 453.5h8.34M629.5 449.33v8.34M687.33 451.5h8.34M691.5 447.33v8.34M685.33 456.5h8.34M689.5 452.33v8.34M615.33 456.5h8.34M619.5 452.33v8.34M714.33 457.5h8.34M718.5 453.33v8.34M658.33 460.5h8.34M662.5 456.33v8.34M605.33 457.5h8.34M609.5 453.33v8.34M664.33 455.5h8.34M668.5 451.33v8.34M597.33 450.5h8.34M601.5 446.33v8.34M657.33 465.5h8.34M661.5 461.33v8.34M572.33 461.5h8.34M576.5 457.33v8.34M690.33 467.5h8.34M694.5 463.33v8.34M596.33 462.5h8.34M600.5 458.33v8.34M622.33 465.5h8.34M626.5 461.33v8.34M631.33 464.5h8.34M635.5 460.33v8.34M702.33 463.5h8.34M706.5 459.33v8.34M655.33 462.5h8.34M659.5 458.33v8.34M565.33 467.5h8.34M569.5 463.33v8.34M702.33 466.5h8.34M706.5 462.33v8.34M624.33 462.5h8.34M628.5 458.33v8.34M590.33 463.5h8.34M594.5 459.33v8.34M645.33 462.5h8.34M649.5 458.33v8.34M671.33 464.5h8.34M675.5 460.33v8.34M666.33 466.5h8.34M670.5 462.33v8.34M697.33 465.5h8.34M701.5 461.33v8.34M594.33 466.5h8.34M598.5 462.33v8.34M562.33 465.5h8.34M566.5 461.33v8.34M573.33 466.5h8.34M577.5 462.33v8.34M592.33 466.5h8.34M596.5 462.33v8.34M697.33 466.5h8.34M701.5 462.33v8.34M589.33 467.5h8.34M593.5 463.33v8.34M639.33 465.5h8.34M643.5 461.33v8.34M663.33 464.5h8.34M667.5 460.33v8.34M610.33 464.5h8.34M614.5 460.33v8.34M662.33 467.5h8.34M666.5 463.33v8.34M668.33 466.5h8.34M672.5 462.33v8.34M581.33 467.5h8.34M585.5 463.33v8.34M637.33 466.5h8.34M641.5 462.33v8.34M612.33 462.5h8.34M616.5 458.33v8.34" fill="none" stroke="#00bfbf" stroke-width="0.7"/>
<path d="M431.33 281.33l8.34 8.34M431.33 289.67l8.34 -8.34M430.33 305.33l8.34 8.34M430.33 313.67l8.34 -8.34M409.33 325.33l8.34 8.34M409.33 333.67l8.34 -8.34M411.33 328.33l8.34 8.34M411.33 336.67l8.34 -8.34M390.33 336.33l8.34 8.34M390.33 344.67l8.34 -8.34M365.33 353.33l8.34 8.34M365.33 361.67l8.34 -8.34M427.33 340.33l8.34 8.34M427.33 348.67l8.34 -8.34M432.33 341.33l8.34 8.34M432.33 349.67l8.34 -8.34M435.33 342.33l8.34 8.34M435.33 350.67l8.34 -8.34M428.33 360.33l8.34 8.34M428.33 368.67l8.34 -8.34M408.33 367.33l8.34 8.34M408.33 375.67l8.34 -8.34M403.33 381.33l8.34 8.34M403.33 389.67l8.34 -8.34M432.33 382.33l8.34 8.34M432.33 390.67l8.34 -8.34M306.33 441.33l8.34 8.34M306.33 449.67l8.34 -8.34M348.33 445.33l8.34 8.34M348.33 453.67l8.34 -8.34M379.33 442.33l8.34 8.34M379.33 450.67l8.34 -8.34M390.33 441.33l8.34 8.34M390.33 449.67l8.34 -8.34M420.33 442.33l8.34 8.34M420.33 450.67l8.34 -8.34M426.33 407.33l8.34 8.34M426.33 415.67l8.34 -8.34M408.33 425.33l8.34 8.34M408.33 433.67l8.34 -8.34M409.33 425.33l8.34 8.34M409.33 433.67l8.34 -8.34M421.33 468.33l8.34 8.34M421.33 476.67l8.34 -8.34M407.33 425.33l8.34 8.34M407.33 433.67l8.34 -8.34M409.33 425.33l8.34 8.34M409.33 433.67l8.34 -8.34M420.33 442.33l8.34 8.34M420.33 450.67l8.34 -8.34M421.33 468.33l8.34 8.34M421.33 476.67l8.34 -8.34M390.33 441.33l8.34 8.34M390.33 449.67l8.34 -8.34M379.33 442.33l8.34 8.34M379.33 450.67l8.34 -8.34M417.33 450.33l8.34 8.34M417.33 458.67l8.34 -8.34M410.33 451.33l8.34 8.34M410.33 459.67l8.34 -8.34M423.33 450.33l8.34 8.34M423.33 458.67l8.34 -8.34M422.33 450.33l8.34 8.34M422.33 458.67l8.34 -8.34M409.33 450.33l8.34 8.34M409.33 458.67l8.34 -8.34M410.33 450.33l8.34 8.34M410.33 458.67l8.34 -8.34M420.33 450.33l8.34 8.34M420.33 458.67l8.34 -8.34M414.33 450.33l8.34 8.34M414.33 458.67l8.34 -8.34M426.33 451.33l8.34 8.34M426.33 459.67l8.34 -8.34M419.33 450.33l8.34 8.34M419.33 458.67l8.34 -8.34M436.33 451.33l8.34 8.34M436.33 459.67l8.34 -8.34M416.33 450.33l8.34 8.34M416.33 458.67l8.34 -8.34M412.33 450.33l8.34 8.34M412.33 458.67l8.34 -8.34M431.33 450.33l8.34 8.34M431.33 458.67l8.34 -8.34M413.33 449.33l8.34 8.34M413.33 457.67l8.34 -8.34M418.33 449.33l8.34 8.34M418.33 457.67l8.34 -8.34M423.33 450.33l8.34 8.34M423.33 458.67l8.34 -8.34M413.33 450.33l8.34 8.34M413.33 458.67l8.34 -8.34M427.33 449.33l8.34 8.34M427.33 457.67l8.34 -8.34M424.33 450.33l8.34 8.34M424.33 458.67l8.34 -8.34M421.33 450.33l8.34 8.34M421.33 458.67l8.34 -8.34M428.33 451.33l8.34 8.34M428.33 459.67l8.34 -8.34M415.33 449.33l8.34 8.34M415.33 457.67l8.34 -8.34M433.33 450.33l8.34 8.34M433.33 458.67l8.34 -8.34M429.33 449.33l8.34 8.34M429.33 457.67l8.34 -8.34M411.33 452.33l8.34 8.34M411.33 460.67l8.34 -8.34M420.33 450.33l8.34 8.34M420.33 458.67l8.34 -8.34M422.33 449.33l8.34 8.34M422.33 457.67l8.34 -8.34M409.33 449.33l8.34 8.34M409.33 457.67l8.34 -8.34M424.33 449.33l8.34 8.34M424.33 457.67l8.34 -8.34M433.33 449.33l8.34 8.34M433.33 457.67l8.34 -8.34M425.33 451.33l8.34 8.34M425.33 459.67l8.34 -8.34M424.33 449.33l8.34 8.34M424.33 457.67l8.34 -8.34M435.33 450.33l8.34 8.34M435.33 458.67l8.34 -8.34M421.33 450.33l8.34 8.34M421.33 458.67l8.34 -8.34M428.33 450.33l8.34 8.34M428.33 458.67l8.34 -8.34M426.33 451.33l8.34 8.34M426.33 459.67l8.34 -8.34M416.33 450.33l8.34 8.34M416.33 458.67l8.34 -8.34M419.33 450.33l8.34 8.34M419.33 458.67l8.34 -8.34M421.33 450.33l8.34 8.34M421.33 458.67l8.34 -8.34M412.33 450.33l8.34 8.34M412.33 458.67l8.34 -8.34M430.33 450.33l8.34 8.34M430.33 458.67l8.34 -8.34M411.33 450.33l8.34 8.34M411.33 458.67l8.34 -8.34M433.33 451.33l8.34 8.34M433.33 459.67l8.34 -8.34M410.33 449.33l8.34 8.34M410.33 457.67l8.34 -8.34M433.33 450.33l8.34 8.34M433.33 458.67l8.34 -8.34M431.33 450.33l8.34 8.34M431.33 458.67l8.34 -8.34M420.33 449.33l8.34 8.34M420.33 457.67l8.34 -8.34M418.33 451.33l8.34 8.34M418.33 459.67l8.34 -8.34M412.33 449.33l8.34 8.34M412.33 457.67l8.34 -8.34M413.33 450.33l8.34 8.34M413.33 458.67l8.34 -8.34M422.33 450.33l8.34 8.34M422.33 458.67l8.34 -8.34M425.33 450.33l8.34 8.34M425.33 458.67l8.34 -8.34M420.33 450.33l8.34 8.34M420.33 458.67l8.34 -8.34M418.33 448.33l8.34 8.34M418.33 456.67l8.34 -8.34M428.33 449.33l8.34 8.34M428.33 457.67l8.34 -8.34M422.33 449.33l8.34 8.34M422.33 457.67l8.34 -8.34M409.33 449.33l8.34 8.34M409.33 457.67l8.34 -8.34M434.33 450.33l8.34 8.34M434.33 458.67l8.34 -8.34M431.33 448.33l8.34 8.34M431.33 456.67l8.34 -8.34M419.33 450.33l8.34 8.34M419.33 458.67l8.34 -8.34M426.33 450.33l8.34 8.34M426.33 458.67l8.34 -8.34M409.33 450.33l8.34 8.34M409.33 458.67l8.34 -8.34M412.33 450.33l8.34 8.34M412.33 458.67l8.34 -8.34M417.33 450.33l8.34 8.34M417.33 458.67l8.34 -8.34M412.33 450.33l8.34 8.34M412.33 458.67l8.34 -8.34M410.33 450.33l8.34 8.34M410.33 458.67l8.34 -8.34M433.33 450.33l8.34 8.34M433.33 458.67l8.34 -8.34M425.33 450.33l8.34 8.34M425.33 458.67l8.34 -8.34M418.33 450.33l8.34 8.34M418.33 458.67l8.34 -8.34M418.33 451.33l8.34 8.34M418.33 459.67l8.34 -8.34M436.33 451.33l8.34 8.34M436.33 459.67l8.34 -8.34M421.33 450.33l8.34 8.34M421.33 458.67l8.34 -8.34M410.33 450.33l8.34 8.34M410.33 458.67l8.34 -8.34M417.33 450.33l8.34 8.34M417.33 458.67l8.34 -8.34M330.33 451.33l8.34 8.34M330.33 459.67l8.34 -8.34M318.33 451.33l8.34 8.34M318.33 459.67l8.34 -8.34M329.33 450.33l8.34 8.34M329.33 458.67l8.34 -8.34M364.33 451.33l8.34 8.34M364.33 459.67l8.34 -8.34M404.33 450.33l8.34 8.34M404.33 458.67l8.34 -8.34M393.33 450.33l8.34 8.34M393.33 458.67l8.34 -8.34M349.33 449.33l8.34 8.34M349.33 457.67l8.34 -8.34M331.33 450.33l8.34 8.34M331.33 458.67l8.34 -8.34M386.33 449.33l8.34 8.34M386.33 457.67l8.34 -8.34M345.33 450.33l8.34 8.34M345.33 458.67l8.34 -8.34M404.33 451.33l8.34 8.34M404.33 459.67l8.34 -8.34M392.33 450.33l8.34 8.34M392.33 458.67l8.34 -8.34M382.33 449.33l8.34 8.34M382.33 457.67l8.34 -8.34M336.33 449.33l8.34 8.34M336.33 457.67l8.34 -8.34M318.33 450.33l8.34 8.34M318.33 458.67l8.34 -8.34M318.33 450.33l8.34 8.34M318.33 458.67l8.34 -8.34M378.33 451.33l8.34 8.34M378.33 459.67l8.34 -8.34M402.33 448.33l8.34 8.34M402.33 456.67l8.34 -8.34M404.33 451.33l8.34 8.34M404.33 459.67l8.34 -8.34M401.33 450.33l8.34 8.34M401.33 458.67l8.34 -8.34M336.33 450.33l8.34 8.34M336.33 458.67l8.34 -8.34M333.33 450.33l8.34 8.34M333.33 458.67l8.34 -8.34M397.33 451.33l8.34 8.34M397.33 459.67l8.34 -8.34M391.33 449.33l8.34 8.34M391.33 457.67l8.34 -8.34M387.33 450.33l8.34 8.34M387.33 458.67l8.34 -8.34M323.33 449.33l8.34 8.34M323.33 457.67l8.34 -8.34M386.33 448.33l8.34 8.34M386.33 456.67l8.34 -8.34M383.33 449.33l8.34 8.34M383.33 457.67l8.34 -8.34M387.33 450.33l8.34 8.34M387.33 458.67l8.34 -8.34M345.33 451.33l8.34 8.34M345.33 459.67l8.34 -8.34M351.33 448.33l8.34 8.34M351.33 456.67l8.34 -8.34M352.33 451.33l8.34 8.34M352.33 459.67l8.34 -8.34M331.33 449.33l8.34 8.34M331.33 457.67l8.34 -8.34M327.33 451.33l8.34 8.34M327.33 459.67l8.34 -8.34M388.33 451.33l8.34 8.34M388.33 459.67l8.34 -8.34M329.33 451.33l8.34 8.34M329.33 459.67l8.34 -8.34M375.33 448.33l8.34 8.34M375.33 456.67l8.34 -8.34M347.33 449.33l8.34 8.34M347.33 457.67l8.34 -8.34M317.33 450.33l8.34 8.34M317.33 458.67l8.34 -8.34M403.33 449.33l8.34 8.34M403.33 457.67l8.34 -8.34M400.33 449.33l8.34 8.34M400.33 457.67l8.34 -8.34M355.33 451.33l8.34 8.34M355.33 459.67l8.34 -8.34M334.33 449.33l8.34 8.34M334.33 457.67l8.34 -8.34M338.33 450.33l8.34 8.34M338.33 458.67l8.34 -8.34M368.33 450.33l8.34 8.34M368.33 458.67l8.34 -8.34M339.33 450.33l8.34 8.34M339.33 458.67l8.34 -8.34M397.33 450.33l8.34 8.34M397.33 458.67l8.34 -8.34M347.33 449.33l8.34 8.34M347.33 457.67l8.34 -8.34M397.33 450.33l8.34 8.34M397.33 458.67l8.34 -8.34M353.33 451.33l8.34 8.34M353.33 459.67l8.34 -8.34M363.33 449.33l8.34 8.34M363.33 457.67l8.34 -8.34M363.33 451.33l8.34 8.34M363.33 459.67l8.34 -8.34M332.33 450.33l8.34 8.34M332.33 458.67l8.34 -8.34M316.33 450.33l8.34 8.34M316.33 458.67l8.34 -8.34M358.33 449.33l8.34 8.34M358.33 457.67l8.34 -8.34M381.33 449.33l8.34 8.34M381.33 457.67l8.34 -8.34M362.33 450.33l8.34 8.34M362.33 458.67l8.34 -8.34M365.33 450.33l8.34 8.34M365.33 458.67l8.34 -8.34M366.33 450.33l8.34 8.34M366.33 458.67l8.34 -8.34M338.33 450.33l8.34 8.34M338.33 458.67l8.34 -8.34" fill="none" stroke="#0000ff" stroke-width="0.9"/>
<circle cx="322.5" cy="454.41" r="4.3" fill="#000"/>
<circle cx="325" cy="454.45" r="4.3" fill="#000"/>
<circle cx="329" cy="454.61" r="4.3" fill="#000"/>
<circle cx="334" cy="454.73" r="4.3" fill="#000"/>
<circle cx="338" cy="454.35" r="4.3" fill="#000"/>
<circle cx="341" cy="454.49" r="4.3" fill="#000"/>
<circle cx="344" cy="454.4" r="4.3" fill="#000"/>
<circle cx="349" cy="454.41" r="4.3" fill="#000"/>
<circle cx="352.5" cy="454.55" r="4.3" fill="#000"/>
<circle cx="357" cy="454.36" r="4.3" fill="#000"/>
<circle cx="366" cy="454.43" r="4.3" fill="#000"/>
<circle cx="369" cy="454.38" r="4.3" fill="#000"/>
<circle cx="373" cy="454.75" r="4.3" fill="#000"/>
<circle cx="377" cy="454.56" r="4.3" fill="#000"/>
<circle cx="380" cy="454.7" r="4.3" fill="#000"/>
<circle cx="384" cy="454.75" r="4.3" fill="#000"/>
<circle cx="388" cy="454.21" r="4.3" fill="#000"/>
<circle cx="391" cy="454.45" r="4.3" fill="#000"/>
<circle cx="395" cy="454.75" r="4.3" fill="#000"/>
<circle cx="399" cy="454.67" r="4.3" fill="#000"/>
<circle cx="402" cy="454.11" r="4.3" fill="#000"/>
<circle cx="406.5" cy="454.1" r="4.3" fill="#000"/>
<circle cx="374.4" cy="479.4" r="4.3" fill="#000"/>
<path d="M100.7 454.6H720" stroke="#0000ff" stroke-width="1.39" stroke-dasharray="8.33 8.33" fill="none"/>
</g>
<rect x="100.65" y="60.6" width="620" height="480" fill="none" stroke="#000" stroke-width="1.39"/>
<text transform="translate(100.3 560) scale(0.95 1.05)" font-size="16.67" text-anchor="middle">−20</text>
<text transform="translate(182.97 560) scale(0.95 1.05)" font-size="16.67" text-anchor="middle">−18</text>
<text transform="translate(265.63 560) scale(0.95 1.05)" font-size="16.67" text-anchor="middle">−16</text>
<text transform="translate(348.3 560) scale(0.95 1.05)" font-size="16.67" text-anchor="middle">−14</text>
<text transform="translate(430.97 560) scale(0.95 1.05)" font-size="16.67" text-anchor="middle">−12</text>
<text transform="translate(513.63 560) scale(0.95 1.05)" font-size="16.67" text-anchor="middle">−10</text>
<text transform="translate(596.3 560) scale(0.95 1.05)" font-size="16.67" text-anchor="middle">−8</text>
<text transform="translate(678.97 560) scale(0.95 1.05)" font-size="16.67" text-anchor="middle">−6</text>
<text transform="translate(136.61 49.6) scale(0.95 1.05)" font-size="16.67" text-anchor="middle">14</text>
<text transform="translate(219.28 49.6) scale(0.95 1.05)" font-size="16.67" text-anchor="middle">16</text>
<text transform="translate(301.95 49.6) scale(0.95 1.05)" font-size="16.67" text-anchor="middle">18</text>
<text transform="translate(384.61 49.6) scale(0.95 1.05)" font-size="16.67" text-anchor="middle">20</text>
<text transform="translate(467.28 49.6) scale(0.95 1.05)" font-size="16.67" text-anchor="middle">22</text>
<text transform="translate(549.95 49.6) scale(0.95 1.05)" font-size="16.67" text-anchor="middle">24</text>
<text transform="translate(632.61 49.6) scale(0.95 1.05)" font-size="16.67" text-anchor="middle">26</text>
<text transform="translate(715.28 49.6) scale(0.95 1.05)" font-size="16.67" text-anchor="middle">28</text>
<text transform="translate(95.2 545.1) scale(0.95 1.05)" font-size="16.67" text-anchor="end">0</text>
<text transform="translate(95.2 425.1) scale(0.95 1.05)" font-size="16.67" text-anchor="end">5</text>
<text transform="translate(95.2 305.1) scale(0.95 1.05)" font-size="16.67" text-anchor="end">10</text>
<text transform="translate(95.2 185.1) scale(0.95 1.05)" font-size="16.67" text-anchor="end">15</text>
<text transform="translate(95.2 65.1) scale(0.95 1.05)" font-size="16.67" text-anchor="end">20</text>
<path d="M100.5 540.6v-6.2M183.5 540.6v-6.2M265.5 540.6v-6.2M348.5 540.6v-6.2M431.5 540.6v-6.2M513.5 540.6v-6.2M596.5 540.6v-6.2M679.5 540.6v-6.2M138.5 60.6v6.2M220.5 60.6v6.2M303.5 60.6v6.2M386.5 60.6v6.2M468.5 60.6v6.2M551.5 60.6v6.2M634.5 60.6v6.2M716.5 60.6v6.2M100.65 540.5h6.2M720.65 540.5h-6.2M100.65 420.5h6.2M720.65 420.5h-6.2M100.65 300.5h6.2M720.65 300.5h-6.2M100.65 180.5h6.2M720.65 180.5h-6.2M100.65 60.5h6.2M720.65 60.5h-6.2" stroke="#000" stroke-width="0.8" fill="none"/>
<text x="411" y="28.6" font-size="20" text-anchor="middle">FWHM vs magnitudes</text>
<text x="411" y="583.5" font-size="16.67" text-anchor="middle">magnitude (bottom:isnt / top:calib)</text>
<text transform="translate(63.6 300) rotate(-90)" font-size="16.67" text-anchor="middle">FWHM (pix)</text>
<rect x="398.3" y="70.5" width="312.25" height="121.75" fill="#fff" stroke="#000" stroke-width="1.39"/>
<path d="M408.33 86.3h8.34M412.5 82.13v8.34M436.33 86.3h8.34M440.5 82.13v8.34" fill="none" stroke="#00bfbf" stroke-width="0.7"/>
<path d="M408.33 111.43l8.34 8.34M408.33 119.77l8.34 -8.34M436.33 111.43l8.34 8.34M436.33 119.77l8.34 -8.34" fill="none" stroke="#0000ff" stroke-width="0.9"/>
<circle cx="412.5" cy="144.6" r="4.3" fill="#000"/>
<circle cx="440.5" cy="144.6" r="4.3" fill="#000"/>
<path d="M412.5 173.7H440.5" stroke="#0000ff" stroke-width="1.39" stroke-dasharray="8.33 8.33" fill="none"/>
<text x="461.9" y="92.6" font-size="20.1">all sample</text>
<text x="461.9" y="121.9" font-size="20.1">sample for rough FWHM</text>
<text x="461.9" y="150.9" font-size="20.1">coarse PSF-like sample</text>
<text x="461.9" y="180" font-size="20.1">tentative FWHM</text>
</svg></body></html>
